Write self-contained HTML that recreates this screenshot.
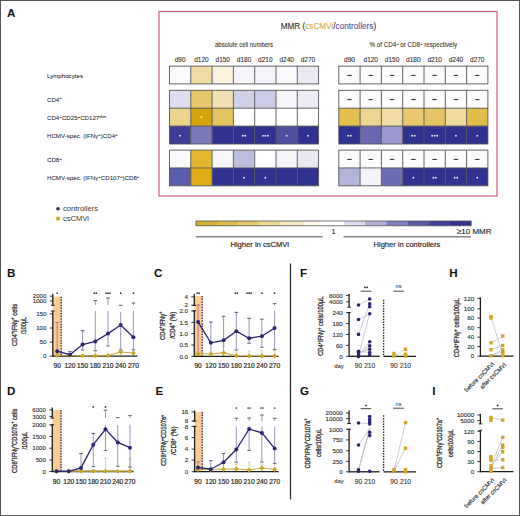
<!DOCTYPE html>
<html><head><meta charset="utf-8"><style>
html,body{margin:0;padding:0;background:#fff;width:520px;height:516px;overflow:hidden;}
svg{display:block;font-family:"Liberation Sans", sans-serif;}
</style></head><body>
<svg width="520" height="516" viewBox="0 0 520 516">
<rect x="0" y="0" width="520" height="516" fill="#fff"/>
<text x="7.00" y="16.70" font-size="11.6" text-anchor="start" font-weight="bold" fill="#111" >A</text>
<rect x="159.00" y="11.50" width="338.00" height="184.50" fill="none" stroke="#c95d76" stroke-width="1.2" />
<text x="328.4" y="29.0" font-size="8.5" text-anchor="middle" fill="#333" stroke="#333" stroke-width="0.12" textLength="95.5" lengthAdjust="spacingAndGlyphs">MMR (<tspan fill="#d9ad3c" stroke="#d9ad3c">csCMVi</tspan>/<tspan fill="#55549e" stroke="#55549e">controllers</tspan>)</text>
<text x="244.00" y="47.20" font-size="6.3" text-anchor="middle" font-weight="normal" fill="#333" stroke="#333" stroke-width="0.08" textLength="58" lengthAdjust="spacingAndGlyphs">absolute cell numbers</text>
<text x="413.3" y="47.4" font-size="6.6" text-anchor="middle" fill="#333" stroke="#333" stroke-width="0.08" textLength="87.5" lengthAdjust="spacingAndGlyphs">% of CD4<tspan font-size="4.4" dy="-2.4">+</tspan><tspan dy="2.4"> or CD8</tspan><tspan font-size="4.4" dy="-2.4">+</tspan><tspan dy="2.4"> respectively</tspan></text>
<text x="180.15" y="62.00" font-size="6.5" text-anchor="middle" font-weight="normal" fill="#333" stroke="#333" stroke-width="0.1" >d90</text>
<text x="201.45" y="62.00" font-size="6.5" text-anchor="middle" font-weight="normal" fill="#333" stroke="#333" stroke-width="0.1" >d120</text>
<text x="222.75" y="62.00" font-size="6.5" text-anchor="middle" font-weight="normal" fill="#333" stroke="#333" stroke-width="0.1" >d150</text>
<text x="244.05" y="62.00" font-size="6.5" text-anchor="middle" font-weight="normal" fill="#333" stroke="#333" stroke-width="0.1" >d180</text>
<text x="265.35" y="62.00" font-size="6.5" text-anchor="middle" font-weight="normal" fill="#333" stroke="#333" stroke-width="0.1" >d210</text>
<text x="286.65" y="62.00" font-size="6.5" text-anchor="middle" font-weight="normal" fill="#333" stroke="#333" stroke-width="0.1" >d240</text>
<text x="307.95" y="62.00" font-size="6.5" text-anchor="middle" font-weight="normal" fill="#333" stroke="#333" stroke-width="0.1" >d270</text>
<text x="349.45" y="62.00" font-size="6.5" text-anchor="middle" font-weight="normal" fill="#333" stroke="#333" stroke-width="0.1" >d90</text>
<text x="370.75" y="62.00" font-size="6.5" text-anchor="middle" font-weight="normal" fill="#333" stroke="#333" stroke-width="0.1" >d120</text>
<text x="392.05" y="62.00" font-size="6.5" text-anchor="middle" font-weight="normal" fill="#333" stroke="#333" stroke-width="0.1" >d150</text>
<text x="413.35" y="62.00" font-size="6.5" text-anchor="middle" font-weight="normal" fill="#333" stroke="#333" stroke-width="0.1" >d180</text>
<text x="434.65" y="62.00" font-size="6.5" text-anchor="middle" font-weight="normal" fill="#333" stroke="#333" stroke-width="0.1" >d210</text>
<text x="455.95" y="62.00" font-size="6.5" text-anchor="middle" font-weight="normal" fill="#333" stroke="#333" stroke-width="0.1" >d240</text>
<text x="477.25" y="62.00" font-size="6.5" text-anchor="middle" font-weight="normal" fill="#333" stroke="#333" stroke-width="0.1" >d270</text>
<rect x="169.50" y="66.10" width="21.30" height="17.80" fill="#fbfbfd" stroke="none" stroke-width="0" />
<rect x="190.80" y="66.10" width="21.30" height="17.80" fill="#f0dca2" stroke="none" stroke-width="0" />
<rect x="212.10" y="66.10" width="21.30" height="17.80" fill="#fbf2dc" stroke="none" stroke-width="0" />
<rect x="233.40" y="66.10" width="21.30" height="17.80" fill="#f4f4fa" stroke="none" stroke-width="0" />
<rect x="254.70" y="66.10" width="21.30" height="17.80" fill="#f3f3f9" stroke="none" stroke-width="0" />
<rect x="276.00" y="66.10" width="21.30" height="17.80" fill="#f9f9fc" stroke="none" stroke-width="0" />
<rect x="297.30" y="66.10" width="21.30" height="17.80" fill="#e9e9f4" stroke="none" stroke-width="0" />
<rect x="169.50" y="90.30" width="21.30" height="17.90" fill="#dedef0" stroke="none" stroke-width="0" />
<rect x="190.80" y="90.30" width="21.30" height="17.90" fill="#e6c76c" stroke="none" stroke-width="0" />
<rect x="212.10" y="90.30" width="21.30" height="17.90" fill="#f2e0b2" stroke="none" stroke-width="0" />
<rect x="233.40" y="90.30" width="21.30" height="17.90" fill="#cfcfe8" stroke="none" stroke-width="0" />
<rect x="254.70" y="90.30" width="21.30" height="17.90" fill="#cbcbe6" stroke="none" stroke-width="0" />
<rect x="276.00" y="90.30" width="21.30" height="17.90" fill="#f5f5f9" stroke="none" stroke-width="0" />
<rect x="297.30" y="90.30" width="21.30" height="17.90" fill="#ececf4" stroke="none" stroke-width="0" />
<rect x="169.50" y="108.20" width="21.30" height="17.90" fill="#ecd38c" stroke="none" stroke-width="0" />
<rect x="190.80" y="108.20" width="21.30" height="17.90" fill="#d4a40e" stroke="none" stroke-width="0" />
<circle cx="201.45" cy="117.15" r="1.0" fill="#fff0a0"/>
<rect x="212.10" y="108.20" width="21.30" height="17.90" fill="#e4c462" stroke="none" stroke-width="0" />
<rect x="233.40" y="108.20" width="21.30" height="17.90" fill="#ffffff" stroke="none" stroke-width="0" />
<rect x="254.70" y="108.20" width="21.30" height="17.90" fill="#ffffff" stroke="none" stroke-width="0" />
<rect x="276.00" y="108.20" width="21.30" height="17.90" fill="#ffffff" stroke="none" stroke-width="0" />
<rect x="297.30" y="108.20" width="21.30" height="17.90" fill="#ffffff" stroke="none" stroke-width="0" />
<rect x="169.50" y="126.10" width="21.30" height="17.90" fill="#3d3d99" stroke="none" stroke-width="0" />
<circle cx="180.15" cy="135.85" r="1.0" fill="#e4e4f2"/>
<rect x="190.80" y="126.10" width="21.30" height="17.90" fill="#7b79b9" stroke="none" stroke-width="0" />
<rect x="212.10" y="126.10" width="21.30" height="17.90" fill="#2f3290" stroke="none" stroke-width="0" />
<rect x="233.40" y="126.10" width="21.30" height="17.90" fill="#2f3290" stroke="none" stroke-width="0" />
<circle cx="242.80" cy="135.85" r="1.0" fill="#e4e4f2"/>
<circle cx="245.30" cy="135.85" r="1.0" fill="#e4e4f2"/>
<rect x="254.70" y="126.10" width="21.30" height="17.90" fill="#2f3290" stroke="none" stroke-width="0" />
<circle cx="262.85" cy="135.85" r="1.0" fill="#e4e4f2"/>
<circle cx="265.35" cy="135.85" r="1.0" fill="#e4e4f2"/>
<circle cx="267.85" cy="135.85" r="1.0" fill="#e4e4f2"/>
<rect x="276.00" y="126.10" width="21.30" height="17.90" fill="#4f4fa2" stroke="none" stroke-width="0" />
<circle cx="286.65" cy="135.85" r="1.0" fill="#e4e4f2"/>
<rect x="297.30" y="126.10" width="21.30" height="17.90" fill="#2f3290" stroke="none" stroke-width="0" />
<circle cx="307.95" cy="135.85" r="1.0" fill="#e4e4f2"/>
<rect x="169.50" y="150.10" width="21.30" height="17.85" fill="#fafafd" stroke="none" stroke-width="0" />
<rect x="190.80" y="150.10" width="21.30" height="17.85" fill="#e4b82c" stroke="none" stroke-width="0" />
<rect x="212.10" y="150.10" width="21.30" height="17.85" fill="#f6f6fa" stroke="none" stroke-width="0" />
<rect x="233.40" y="150.10" width="21.30" height="17.85" fill="#bdbde0" stroke="none" stroke-width="0" />
<rect x="254.70" y="150.10" width="21.30" height="17.85" fill="#ffffff" stroke="none" stroke-width="0" />
<rect x="276.00" y="150.10" width="21.30" height="17.85" fill="#f4f4f8" stroke="none" stroke-width="0" />
<rect x="297.30" y="150.10" width="21.30" height="17.85" fill="#e8e8f2" stroke="none" stroke-width="0" />
<rect x="169.50" y="167.95" width="21.30" height="17.85" fill="#5d5dad" stroke="none" stroke-width="0" />
<rect x="190.80" y="167.95" width="21.30" height="17.85" fill="#e0ac16" stroke="none" stroke-width="0" />
<rect x="212.10" y="167.95" width="21.30" height="17.85" fill="#2f3290" stroke="none" stroke-width="0" />
<rect x="233.40" y="167.95" width="21.30" height="17.85" fill="#2f3290" stroke="none" stroke-width="0" />
<circle cx="244.05" cy="177.68" r="1.0" fill="#e4e4f2"/>
<rect x="254.70" y="167.95" width="21.30" height="17.85" fill="#2f3290" stroke="none" stroke-width="0" />
<circle cx="265.35" cy="177.68" r="1.0" fill="#e4e4f2"/>
<rect x="276.00" y="167.95" width="21.30" height="17.85" fill="#2f3290" stroke="none" stroke-width="0" />
<rect x="297.30" y="167.95" width="21.30" height="17.85" fill="#2f3290" stroke="none" stroke-width="0" />
<rect x="169.50" y="66.10" width="149.10" height="17.80" fill="none" stroke="#555" stroke-width="0.9" />
<line x1="190.80" y1="66.10" x2="190.80" y2="83.90" stroke="#555" stroke-width="0.9" />
<line x1="212.10" y1="66.10" x2="212.10" y2="83.90" stroke="#555" stroke-width="0.9" />
<line x1="233.40" y1="66.10" x2="233.40" y2="83.90" stroke="#555" stroke-width="0.9" />
<line x1="254.70" y1="66.10" x2="254.70" y2="83.90" stroke="#555" stroke-width="0.9" />
<line x1="276.00" y1="66.10" x2="276.00" y2="83.90" stroke="#555" stroke-width="0.9" />
<line x1="297.30" y1="66.10" x2="297.30" y2="83.90" stroke="#555" stroke-width="0.9" />
<rect x="169.50" y="90.30" width="149.10" height="53.70" fill="none" stroke="#555" stroke-width="0.9" />
<line x1="190.80" y1="90.30" x2="190.80" y2="144.00" stroke="#555" stroke-width="0.9" />
<line x1="212.10" y1="90.30" x2="212.10" y2="144.00" stroke="#555" stroke-width="0.9" />
<line x1="233.40" y1="90.30" x2="233.40" y2="144.00" stroke="#555" stroke-width="0.9" />
<line x1="254.70" y1="90.30" x2="254.70" y2="144.00" stroke="#555" stroke-width="0.9" />
<line x1="276.00" y1="90.30" x2="276.00" y2="144.00" stroke="#555" stroke-width="0.9" />
<line x1="297.30" y1="90.30" x2="297.30" y2="144.00" stroke="#555" stroke-width="0.9" />
<line x1="169.50" y1="108.20" x2="318.60" y2="108.20" stroke="#555" stroke-width="0.9" />
<line x1="169.50" y1="126.10" x2="318.60" y2="126.10" stroke="#555" stroke-width="0.9" />
<rect x="169.50" y="150.10" width="149.10" height="35.70" fill="none" stroke="#555" stroke-width="0.9" />
<line x1="190.80" y1="150.10" x2="190.80" y2="185.80" stroke="#555" stroke-width="0.9" />
<line x1="212.10" y1="150.10" x2="212.10" y2="185.80" stroke="#555" stroke-width="0.9" />
<line x1="233.40" y1="150.10" x2="233.40" y2="185.80" stroke="#555" stroke-width="0.9" />
<line x1="254.70" y1="150.10" x2="254.70" y2="185.80" stroke="#555" stroke-width="0.9" />
<line x1="276.00" y1="150.10" x2="276.00" y2="185.80" stroke="#555" stroke-width="0.9" />
<line x1="297.30" y1="150.10" x2="297.30" y2="185.80" stroke="#555" stroke-width="0.9" />
<line x1="169.50" y1="167.95" x2="318.60" y2="167.95" stroke="#555" stroke-width="0.9" />
<rect x="338.80" y="66.10" width="21.30" height="17.80" fill="#fbfbfd" stroke="none" stroke-width="0" />
<line x1="347.25" y1="75.40" x2="351.65" y2="75.40" stroke="#2a2a2a" stroke-width="1.0" />
<rect x="360.10" y="66.10" width="21.30" height="17.80" fill="#fbfbfd" stroke="none" stroke-width="0" />
<line x1="368.55" y1="75.40" x2="372.95" y2="75.40" stroke="#2a2a2a" stroke-width="1.0" />
<rect x="381.40" y="66.10" width="21.30" height="17.80" fill="#fbfbfd" stroke="none" stroke-width="0" />
<line x1="389.85" y1="75.40" x2="394.25" y2="75.40" stroke="#2a2a2a" stroke-width="1.0" />
<rect x="402.70" y="66.10" width="21.30" height="17.80" fill="#fbfbfd" stroke="none" stroke-width="0" />
<line x1="411.15" y1="75.40" x2="415.55" y2="75.40" stroke="#2a2a2a" stroke-width="1.0" />
<rect x="424.00" y="66.10" width="21.30" height="17.80" fill="#fbfbfd" stroke="none" stroke-width="0" />
<line x1="432.45" y1="75.40" x2="436.85" y2="75.40" stroke="#2a2a2a" stroke-width="1.0" />
<rect x="445.30" y="66.10" width="21.30" height="17.80" fill="#fbfbfd" stroke="none" stroke-width="0" />
<line x1="453.75" y1="75.40" x2="458.15" y2="75.40" stroke="#2a2a2a" stroke-width="1.0" />
<rect x="466.60" y="66.10" width="21.30" height="17.80" fill="#fbfbfd" stroke="none" stroke-width="0" />
<line x1="475.05" y1="75.40" x2="479.45" y2="75.40" stroke="#2a2a2a" stroke-width="1.0" />
<rect x="338.80" y="90.30" width="21.30" height="17.90" fill="#fbfbfd" stroke="none" stroke-width="0" />
<line x1="347.25" y1="99.65" x2="351.65" y2="99.65" stroke="#2a2a2a" stroke-width="1.0" />
<rect x="360.10" y="90.30" width="21.30" height="17.90" fill="#fbfbfd" stroke="none" stroke-width="0" />
<line x1="368.55" y1="99.65" x2="372.95" y2="99.65" stroke="#2a2a2a" stroke-width="1.0" />
<rect x="381.40" y="90.30" width="21.30" height="17.90" fill="#fbfbfd" stroke="none" stroke-width="0" />
<line x1="389.85" y1="99.65" x2="394.25" y2="99.65" stroke="#2a2a2a" stroke-width="1.0" />
<rect x="402.70" y="90.30" width="21.30" height="17.90" fill="#fbfbfd" stroke="none" stroke-width="0" />
<line x1="411.15" y1="99.65" x2="415.55" y2="99.65" stroke="#2a2a2a" stroke-width="1.0" />
<rect x="424.00" y="90.30" width="21.30" height="17.90" fill="#fbfbfd" stroke="none" stroke-width="0" />
<line x1="432.45" y1="99.65" x2="436.85" y2="99.65" stroke="#2a2a2a" stroke-width="1.0" />
<rect x="445.30" y="90.30" width="21.30" height="17.90" fill="#fbfbfd" stroke="none" stroke-width="0" />
<line x1="453.75" y1="99.65" x2="458.15" y2="99.65" stroke="#2a2a2a" stroke-width="1.0" />
<rect x="466.60" y="90.30" width="21.30" height="17.90" fill="#fbfbfd" stroke="none" stroke-width="0" />
<line x1="475.05" y1="99.65" x2="479.45" y2="99.65" stroke="#2a2a2a" stroke-width="1.0" />
<rect x="338.80" y="108.20" width="21.30" height="17.90" fill="#e4bf50" stroke="none" stroke-width="0" />
<rect x="360.10" y="108.20" width="21.30" height="17.90" fill="#ecd494" stroke="none" stroke-width="0" />
<rect x="381.40" y="108.20" width="21.30" height="17.90" fill="#f0dca4" stroke="none" stroke-width="0" />
<rect x="402.70" y="108.20" width="21.30" height="17.90" fill="#e8c870" stroke="none" stroke-width="0" />
<rect x="424.00" y="108.20" width="21.30" height="17.90" fill="#e6c466" stroke="none" stroke-width="0" />
<rect x="445.30" y="108.20" width="21.30" height="17.90" fill="#f0daa0" stroke="none" stroke-width="0" />
<rect x="466.60" y="108.20" width="21.30" height="17.90" fill="#e0bc48" stroke="none" stroke-width="0" />
<rect x="338.80" y="126.10" width="21.30" height="17.90" fill="#2f3290" stroke="none" stroke-width="0" />
<circle cx="348.20" cy="135.85" r="1.0" fill="#e4e4f2"/>
<circle cx="350.70" cy="135.85" r="1.0" fill="#e4e4f2"/>
<rect x="360.10" y="126.10" width="21.30" height="17.90" fill="#6a68b0" stroke="none" stroke-width="0" />
<rect x="381.40" y="126.10" width="21.30" height="17.90" fill="#9a98cc" stroke="none" stroke-width="0" />
<rect x="402.70" y="126.10" width="21.30" height="17.90" fill="#2f3290" stroke="none" stroke-width="0" />
<circle cx="412.10" cy="135.85" r="1.0" fill="#e4e4f2"/>
<circle cx="414.60" cy="135.85" r="1.0" fill="#e4e4f2"/>
<rect x="424.00" y="126.10" width="21.30" height="17.90" fill="#2f3290" stroke="none" stroke-width="0" />
<circle cx="432.15" cy="135.85" r="1.0" fill="#e4e4f2"/>
<circle cx="434.65" cy="135.85" r="1.0" fill="#e4e4f2"/>
<circle cx="437.15" cy="135.85" r="1.0" fill="#e4e4f2"/>
<rect x="445.30" y="126.10" width="21.30" height="17.90" fill="#2f3290" stroke="none" stroke-width="0" />
<circle cx="455.95" cy="135.85" r="1.0" fill="#e4e4f2"/>
<rect x="466.60" y="126.10" width="21.30" height="17.90" fill="#2f3290" stroke="none" stroke-width="0" />
<circle cx="477.25" cy="135.85" r="1.0" fill="#e4e4f2"/>
<rect x="338.80" y="150.10" width="21.30" height="17.85" fill="#fbfbfd" stroke="none" stroke-width="0" />
<line x1="347.25" y1="159.43" x2="351.65" y2="159.43" stroke="#2a2a2a" stroke-width="1.0" />
<rect x="360.10" y="150.10" width="21.30" height="17.85" fill="#fbfbfd" stroke="none" stroke-width="0" />
<line x1="368.55" y1="159.43" x2="372.95" y2="159.43" stroke="#2a2a2a" stroke-width="1.0" />
<rect x="381.40" y="150.10" width="21.30" height="17.85" fill="#fbfbfd" stroke="none" stroke-width="0" />
<line x1="389.85" y1="159.43" x2="394.25" y2="159.43" stroke="#2a2a2a" stroke-width="1.0" />
<rect x="402.70" y="150.10" width="21.30" height="17.85" fill="#fbfbfd" stroke="none" stroke-width="0" />
<line x1="411.15" y1="159.43" x2="415.55" y2="159.43" stroke="#2a2a2a" stroke-width="1.0" />
<rect x="424.00" y="150.10" width="21.30" height="17.85" fill="#fbfbfd" stroke="none" stroke-width="0" />
<line x1="432.45" y1="159.43" x2="436.85" y2="159.43" stroke="#2a2a2a" stroke-width="1.0" />
<rect x="445.30" y="150.10" width="21.30" height="17.85" fill="#fbfbfd" stroke="none" stroke-width="0" />
<line x1="453.75" y1="159.43" x2="458.15" y2="159.43" stroke="#2a2a2a" stroke-width="1.0" />
<rect x="466.60" y="150.10" width="21.30" height="17.85" fill="#fbfbfd" stroke="none" stroke-width="0" />
<line x1="475.05" y1="159.43" x2="479.45" y2="159.43" stroke="#2a2a2a" stroke-width="1.0" />
<rect x="338.80" y="167.95" width="21.30" height="17.85" fill="#b4b4dc" stroke="none" stroke-width="0" />
<rect x="360.10" y="167.95" width="21.30" height="17.85" fill="#f4f4f8" stroke="none" stroke-width="0" />
<rect x="381.40" y="167.95" width="21.30" height="17.85" fill="#6c6cb4" stroke="none" stroke-width="0" />
<rect x="402.70" y="167.95" width="21.30" height="17.85" fill="#2f3290" stroke="none" stroke-width="0" />
<circle cx="413.35" cy="177.68" r="1.0" fill="#e4e4f2"/>
<rect x="424.00" y="167.95" width="21.30" height="17.85" fill="#2f3290" stroke="none" stroke-width="0" />
<circle cx="433.40" cy="177.68" r="1.0" fill="#e4e4f2"/>
<circle cx="435.90" cy="177.68" r="1.0" fill="#e4e4f2"/>
<rect x="445.30" y="167.95" width="21.30" height="17.85" fill="#2f3290" stroke="none" stroke-width="0" />
<circle cx="454.70" cy="177.68" r="1.0" fill="#e4e4f2"/>
<circle cx="457.20" cy="177.68" r="1.0" fill="#e4e4f2"/>
<rect x="466.60" y="167.95" width="21.30" height="17.85" fill="#2f3290" stroke="none" stroke-width="0" />
<circle cx="477.25" cy="177.68" r="1.0" fill="#e4e4f2"/>
<rect x="338.80" y="66.10" width="149.10" height="17.80" fill="none" stroke="#555" stroke-width="0.9" />
<line x1="360.10" y1="66.10" x2="360.10" y2="83.90" stroke="#555" stroke-width="0.9" />
<line x1="381.40" y1="66.10" x2="381.40" y2="83.90" stroke="#555" stroke-width="0.9" />
<line x1="402.70" y1="66.10" x2="402.70" y2="83.90" stroke="#555" stroke-width="0.9" />
<line x1="424.00" y1="66.10" x2="424.00" y2="83.90" stroke="#555" stroke-width="0.9" />
<line x1="445.30" y1="66.10" x2="445.30" y2="83.90" stroke="#555" stroke-width="0.9" />
<line x1="466.60" y1="66.10" x2="466.60" y2="83.90" stroke="#555" stroke-width="0.9" />
<rect x="338.80" y="90.30" width="149.10" height="53.70" fill="none" stroke="#555" stroke-width="0.9" />
<line x1="360.10" y1="90.30" x2="360.10" y2="144.00" stroke="#555" stroke-width="0.9" />
<line x1="381.40" y1="90.30" x2="381.40" y2="144.00" stroke="#555" stroke-width="0.9" />
<line x1="402.70" y1="90.30" x2="402.70" y2="144.00" stroke="#555" stroke-width="0.9" />
<line x1="424.00" y1="90.30" x2="424.00" y2="144.00" stroke="#555" stroke-width="0.9" />
<line x1="445.30" y1="90.30" x2="445.30" y2="144.00" stroke="#555" stroke-width="0.9" />
<line x1="466.60" y1="90.30" x2="466.60" y2="144.00" stroke="#555" stroke-width="0.9" />
<line x1="338.80" y1="108.20" x2="487.90" y2="108.20" stroke="#555" stroke-width="0.9" />
<line x1="338.80" y1="126.10" x2="487.90" y2="126.10" stroke="#555" stroke-width="0.9" />
<rect x="338.80" y="150.10" width="149.10" height="35.70" fill="none" stroke="#555" stroke-width="0.9" />
<line x1="360.10" y1="150.10" x2="360.10" y2="185.80" stroke="#555" stroke-width="0.9" />
<line x1="381.40" y1="150.10" x2="381.40" y2="185.80" stroke="#555" stroke-width="0.9" />
<line x1="402.70" y1="150.10" x2="402.70" y2="185.80" stroke="#555" stroke-width="0.9" />
<line x1="424.00" y1="150.10" x2="424.00" y2="185.80" stroke="#555" stroke-width="0.9" />
<line x1="445.30" y1="150.10" x2="445.30" y2="185.80" stroke="#555" stroke-width="0.9" />
<line x1="466.60" y1="150.10" x2="466.60" y2="185.80" stroke="#555" stroke-width="0.9" />
<line x1="338.80" y1="167.95" x2="487.90" y2="167.95" stroke="#555" stroke-width="0.9" />
<text x="47" y="78" font-size="6.15" fill="#2a2a2a" stroke="#2a2a2a" stroke-width="0.05">Lymphocytes</text>
<text x="47" y="101.5" font-size="6.15" fill="#2a2a2a" stroke="#2a2a2a" stroke-width="0.05">CD4<tspan font-size="4.4" dy="-2.4">+</tspan></text>
<text x="47" y="120" font-size="6.15" fill="#2a2a2a" stroke="#2a2a2a" stroke-width="0.05">CD4<tspan font-size="4.4" dy="-2.4">+</tspan><tspan dy="2.4">CD25</tspan><tspan font-size="4.4" dy="-2.4">+</tspan><tspan dy="2.4">CD127</tspan><tspan font-size="4.4" dy="-2.4">dim</tspan></text>
<text x="47" y="138" font-size="6.15" fill="#2a2a2a" stroke="#2a2a2a" stroke-width="0.05">HCMV-spec. (IFNγ<tspan font-size="4.4" dy="-2.4">+</tspan><tspan dy="2.4">)CD4</tspan><tspan font-size="4.4" dy="-2.4">+</tspan></text>
<text x="47" y="162" font-size="6.15" fill="#2a2a2a" stroke="#2a2a2a" stroke-width="0.05">CD8<tspan font-size="4.4" dy="-2.4">+</tspan></text>
<text x="47" y="180" font-size="6.15" fill="#2a2a2a" stroke="#2a2a2a" stroke-width="0.05">HCMV-spec. (IFNγ<tspan font-size="4.4" dy="-2.4">+</tspan><tspan dy="2.4">CD107</tspan><tspan font-size="4.4" dy="-2.4">+</tspan><tspan dy="2.4">)CD8</tspan><tspan font-size="4.4" dy="-2.4">+</tspan></text>
<circle cx="58" cy="208.8" r="1.8" fill="#2a2672"/>
<rect x="56.20" y="216.80" width="3.60" height="3.60" fill="#c8a23a" stroke="none" stroke-width="0" />
<text x="63.00" y="210.90" font-size="7.6" text-anchor="start" font-weight="normal" fill="#3a3a3a" >controllers</text>
<text x="63.00" y="220.90" font-size="7.6" text-anchor="start" font-weight="normal" fill="#3a3a3a" >csCMVi</text>
<rect x="196.00" y="221.00" width="21.30" height="4.80" fill="#d4ae2a" stroke="none" stroke-width="0" />
<rect x="217.00" y="221.00" width="21.80" height="4.80" fill="#dcbc44" stroke="none" stroke-width="0" />
<rect x="238.50" y="221.00" width="21.30" height="4.80" fill="#e6ca6a" stroke="none" stroke-width="0" />
<rect x="259.50" y="221.00" width="21.30" height="4.80" fill="#eed894" stroke="none" stroke-width="0" />
<rect x="280.50" y="221.00" width="23.60" height="4.80" fill="#f4e8c0" stroke="none" stroke-width="0" />
<rect x="303.80" y="221.00" width="16.50" height="4.80" fill="#fbf6e6" stroke="none" stroke-width="0" />
<rect x="320.00" y="221.00" width="24.50" height="4.80" fill="#ffffff" stroke="none" stroke-width="0" />
<rect x="344.20" y="221.00" width="21.10" height="4.80" fill="#dedef0" stroke="none" stroke-width="0" />
<rect x="365.00" y="221.00" width="21.80" height="4.80" fill="#aeaed8" stroke="none" stroke-width="0" />
<rect x="386.50" y="221.00" width="21.30" height="4.80" fill="#8080c0" stroke="none" stroke-width="0" />
<rect x="407.50" y="221.00" width="21.30" height="4.80" fill="#5c5caa" stroke="none" stroke-width="0" />
<rect x="428.50" y="221.00" width="21.80" height="4.80" fill="#42429a" stroke="none" stroke-width="0" />
<rect x="450.00" y="221.00" width="21.30" height="4.80" fill="#30308e" stroke="none" stroke-width="0" />
<rect x="196.00" y="221.00" width="275.00" height="4.80" fill="none" stroke="#555" stroke-width="0.8" />
<line x1="196.00" y1="236.80" x2="322.70" y2="236.80" stroke="#858585" stroke-width="1.6" />
<line x1="343.50" y1="236.80" x2="471.00" y2="236.80" stroke="#858585" stroke-width="1.6" />
<text x="333.50" y="233.80" font-size="6.5" text-anchor="middle" font-weight="normal" fill="#222" stroke="#222" stroke-width="0.15" >1</text>
<text x="259.70" y="246.50" font-size="7.6" text-anchor="middle" font-weight="normal" fill="#2a2a2a" stroke="#2a2a2a" stroke-width="0.18" >Higher in csCMVi</text>
<text x="406.90" y="246.50" font-size="7.5" text-anchor="middle" font-weight="normal" fill="#2a2a2a" stroke="#2a2a2a" stroke-width="0.18" >Higher in controllers</text>
<text x="457.00" y="234.40" font-size="7.9" text-anchor="start" font-weight="normal" fill="#2a2a2a" stroke="#2a2a2a" stroke-width="0.15" textLength="34.5" lengthAdjust="spacingAndGlyphs">≥10 MMR</text>
<rect x="52.80" y="296.70" width="8.80" height="59.50" fill="#f9cd93" stroke="none" stroke-width="0" />
<line x1="61.20" y1="296.70" x2="61.20" y2="356.20" stroke="#2a2050" stroke-width="1.2" stroke-dasharray="1.5,1.2"/>
<line x1="95.30" y1="351.00" x2="95.30" y2="356.00" stroke="#d4c494" stroke-width="0.8" />
<line x1="93.80" y1="351.00" x2="96.80" y2="351.00" stroke="#d4c494" stroke-width="0.8" />
<line x1="120.70" y1="349.00" x2="120.70" y2="356.00" stroke="#d4c494" stroke-width="0.8" />
<line x1="119.20" y1="349.00" x2="122.20" y2="349.00" stroke="#d4c494" stroke-width="0.8" />
<line x1="133.40" y1="350.00" x2="133.40" y2="356.00" stroke="#d4c494" stroke-width="0.8" />
<line x1="131.90" y1="350.00" x2="134.90" y2="350.00" stroke="#d4c494" stroke-width="0.8" />
<line x1="57.20" y1="322.40" x2="57.20" y2="356.20" stroke="#b07890" stroke-width="1.0" />
<line x1="55.40" y1="322.40" x2="59.00" y2="322.40" stroke="#b07890" stroke-width="1.1" />
<line x1="69.90" y1="351.60" x2="69.90" y2="356.20" stroke="#9896bc" stroke-width="1.0" />
<line x1="68.10" y1="351.60" x2="71.70" y2="351.60" stroke="#646482" stroke-width="1.1" />
<line x1="82.60" y1="330.60" x2="82.60" y2="350.00" stroke="#9896bc" stroke-width="1.0" />
<line x1="80.80" y1="330.60" x2="84.40" y2="330.60" stroke="#646482" stroke-width="1.1" />
<line x1="80.80" y1="350.00" x2="84.40" y2="350.00" stroke="#646482" stroke-width="1.0" />
<line x1="95.30" y1="300.60" x2="95.30" y2="305.30" stroke="#9896bc" stroke-width="1.0" />
<line x1="95.30" y1="311.00" x2="95.30" y2="350.70" stroke="#9896bc" stroke-width="1.0" />
<line x1="93.50" y1="300.60" x2="97.10" y2="300.60" stroke="#646482" stroke-width="1.1" />
<line x1="93.50" y1="350.70" x2="97.10" y2="350.70" stroke="#646482" stroke-width="1.0" />
<line x1="108.00" y1="298.00" x2="108.00" y2="305.30" stroke="#9896bc" stroke-width="1.0" />
<line x1="108.00" y1="311.00" x2="108.00" y2="346.00" stroke="#9896bc" stroke-width="1.0" />
<line x1="106.20" y1="298.00" x2="109.80" y2="298.00" stroke="#646482" stroke-width="1.1" />
<line x1="106.20" y1="346.00" x2="109.80" y2="346.00" stroke="#646482" stroke-width="1.0" />
<line x1="120.70" y1="312.00" x2="120.70" y2="350.00" stroke="#9896bc" stroke-width="1.0" />
<line x1="118.90" y1="305.30" x2="122.50" y2="305.30" stroke="#646482" stroke-width="1.1" />
<line x1="118.90" y1="350.00" x2="122.50" y2="350.00" stroke="#646482" stroke-width="1.0" />
<line x1="133.40" y1="303.00" x2="133.40" y2="305.30" stroke="#9896bc" stroke-width="1.0" />
<line x1="133.40" y1="311.00" x2="133.40" y2="349.80" stroke="#9896bc" stroke-width="1.0" />
<line x1="131.60" y1="303.00" x2="135.20" y2="303.00" stroke="#646482" stroke-width="1.1" />
<line x1="131.60" y1="349.80" x2="135.20" y2="349.80" stroke="#646482" stroke-width="1.0" />
<line x1="52.80" y1="356.20" x2="137.50" y2="356.20" stroke="#1e1e1e" stroke-width="1.3" />
<polyline points="57.20,355.50 69.90,355.50 82.60,355.80 95.30,355.80 108.00,355.50 120.70,352.00 133.40,353.00" fill="none" stroke="#c4a22c" stroke-width="1.2" stroke-opacity="0.85"/>
<rect x="-1.8" y="-1.8" width="3.6" height="3.6" fill="#c9a52a" transform="translate(57.20,355.50) rotate(45)"/>
<rect x="-1.8" y="-1.8" width="3.6" height="3.6" fill="#c9a52a" transform="translate(69.90,355.50) rotate(45)"/>
<rect x="-1.8" y="-1.8" width="3.6" height="3.6" fill="#c9a52a" transform="translate(82.60,355.80) rotate(45)"/>
<rect x="-1.8" y="-1.8" width="3.6" height="3.6" fill="#c9a52a" transform="translate(95.30,355.80) rotate(45)"/>
<rect x="-1.8" y="-1.8" width="3.6" height="3.6" fill="#c9a52a" transform="translate(108.00,355.50) rotate(45)"/>
<rect x="-1.8" y="-1.8" width="3.6" height="3.6" fill="#c9a52a" transform="translate(120.70,352.00) rotate(45)"/>
<rect x="-1.8" y="-1.8" width="3.6" height="3.6" fill="#c9a52a" transform="translate(133.40,353.00) rotate(45)"/>
<polyline points="57.20,351.20 69.90,354.70 82.60,344.50 95.30,341.40 108.00,333.60 120.70,325.00 133.40,337.20" fill="none" stroke="#2a2672" stroke-width="1.3"/>
<circle cx="57.20" cy="351.20" r="2.0" fill="#2a2672"/>
<circle cx="69.90" cy="354.70" r="2.0" fill="#2a2672"/>
<circle cx="82.60" cy="344.50" r="2.0" fill="#2a2672"/>
<circle cx="95.30" cy="341.40" r="2.0" fill="#2a2672"/>
<circle cx="108.00" cy="333.60" r="2.0" fill="#2a2672"/>
<circle cx="120.70" cy="325.00" r="2.0" fill="#2a2672"/>
<circle cx="133.40" cy="337.20" r="2.0" fill="#2a2672"/>
<line x1="52.80" y1="293.70" x2="52.80" y2="305.30" stroke="#1e1e1e" stroke-width="1.3" />
<line x1="52.80" y1="311.00" x2="52.80" y2="356.80" stroke="#1e1e1e" stroke-width="1.3" />
<line x1="51.00" y1="305.30" x2="54.60" y2="305.30" stroke="#1e1e1e" stroke-width="1.0" />
<line x1="51.00" y1="311.00" x2="54.60" y2="311.00" stroke="#1e1e1e" stroke-width="1.0" />
<line x1="49.80" y1="296.20" x2="52.80" y2="296.20" stroke="#1e1e1e" stroke-width="0.9" />
<text x="46.50" y="298.40" font-size="6.2" text-anchor="end" font-weight="normal" fill="#303030" stroke="#303030" stroke-width="0.12" >2000</text>
<line x1="49.80" y1="301.00" x2="52.80" y2="301.00" stroke="#1e1e1e" stroke-width="0.9" />
<text x="46.50" y="303.20" font-size="6.2" text-anchor="end" font-weight="normal" fill="#303030" stroke="#303030" stroke-width="0.12" >1000</text>
<line x1="49.80" y1="313.90" x2="52.80" y2="313.90" stroke="#1e1e1e" stroke-width="0.9" />
<text x="46.50" y="316.10" font-size="6.2" text-anchor="end" font-weight="normal" fill="#303030" stroke="#303030" stroke-width="0.12" >150</text>
<line x1="49.80" y1="328.00" x2="52.80" y2="328.00" stroke="#1e1e1e" stroke-width="0.9" />
<text x="46.50" y="330.20" font-size="6.2" text-anchor="end" font-weight="normal" fill="#303030" stroke="#303030" stroke-width="0.12" >100</text>
<line x1="49.80" y1="342.10" x2="52.80" y2="342.10" stroke="#1e1e1e" stroke-width="0.9" />
<text x="46.50" y="344.30" font-size="6.2" text-anchor="end" font-weight="normal" fill="#303030" stroke="#303030" stroke-width="0.12" >50</text>
<line x1="49.80" y1="356.20" x2="52.80" y2="356.20" stroke="#1e1e1e" stroke-width="0.9" />
<text x="46.50" y="358.40" font-size="6.2" text-anchor="end" font-weight="normal" fill="#303030" stroke="#303030" stroke-width="0.12" >0</text>
<text x="57.20" y="368.20" font-size="6.6" text-anchor="middle" font-weight="normal" fill="#2a2a2a" stroke="#2a2a2a" stroke-width="0.2" >90</text>
<text x="69.90" y="368.20" font-size="6.6" text-anchor="middle" font-weight="normal" fill="#2a2a2a" stroke="#2a2a2a" stroke-width="0.2" >120</text>
<text x="82.60" y="368.20" font-size="6.6" text-anchor="middle" font-weight="normal" fill="#2a2a2a" stroke="#2a2a2a" stroke-width="0.2" >150</text>
<text x="95.30" y="368.20" font-size="6.6" text-anchor="middle" font-weight="normal" fill="#2a2a2a" stroke="#2a2a2a" stroke-width="0.2" >180</text>
<text x="108.00" y="368.20" font-size="6.6" text-anchor="middle" font-weight="normal" fill="#2a2a2a" stroke="#2a2a2a" stroke-width="0.2" >210</text>
<text x="120.70" y="368.20" font-size="6.6" text-anchor="middle" font-weight="normal" fill="#2a2a2a" stroke="#2a2a2a" stroke-width="0.2" >240</text>
<text x="133.40" y="368.20" font-size="6.6" text-anchor="middle" font-weight="normal" fill="#2a2a2a" stroke="#2a2a2a" stroke-width="0.2" >270</text>
<circle cx="57.20" cy="293.20" r="0.85" fill="#333"/>
<circle cx="94.30" cy="293.20" r="0.85" fill="#333"/>
<circle cx="96.30" cy="293.20" r="0.85" fill="#333"/>
<circle cx="106.00" cy="293.20" r="0.85" fill="#333"/>
<circle cx="108.00" cy="293.20" r="0.85" fill="#333"/>
<circle cx="110.00" cy="293.20" r="0.85" fill="#333"/>
<circle cx="120.70" cy="293.20" r="0.85" fill="#333"/>
<circle cx="133.40" cy="293.20" r="0.85" fill="#333"/>
<text x="0" y="0" font-size="7.6" text-anchor="middle" fill="#333333" stroke="#333333" stroke-width="0.32" textLength="42" lengthAdjust="spacingAndGlyphs" transform="translate(16.90,324.90) rotate(-90)">CD4<tspan font-size="4.8" dy="-2.6">+</tspan><tspan dy="2.6">IFNγ<tspan font-size="4.8" dy="-2.6">+</tspan><tspan dy="2.6"> cells</tspan></tspan></text>
<text x="0" y="0" font-size="7.6" text-anchor="middle" fill="#333333" stroke="#333333" stroke-width="0.32" textLength="17.6" lengthAdjust="spacingAndGlyphs" transform="translate(25.80,325.50) rotate(-90)">/100µL</text>
<text x="7.00" y="277.40" font-size="11.6" text-anchor="start" font-weight="bold" fill="#111" >B</text>
<rect x="194.30" y="295.90" width="8.30" height="60.40" fill="#f9cd93" stroke="none" stroke-width="0" />
<line x1="202.20" y1="295.90" x2="202.20" y2="356.30" stroke="#2a2050" stroke-width="1.2" stroke-dasharray="1.5,1.2"/>
<line x1="223.60" y1="345.30" x2="223.60" y2="356.00" stroke="#d4c494" stroke-width="0.8" />
<line x1="222.10" y1="345.30" x2="225.10" y2="345.30" stroke="#d4c494" stroke-width="0.8" />
<line x1="236.35" y1="350.00" x2="236.35" y2="356.00" stroke="#d4c494" stroke-width="0.8" />
<line x1="234.85" y1="350.00" x2="237.85" y2="350.00" stroke="#d4c494" stroke-width="0.8" />
<line x1="249.10" y1="351.00" x2="249.10" y2="356.00" stroke="#d4c494" stroke-width="0.8" />
<line x1="247.60" y1="351.00" x2="250.60" y2="351.00" stroke="#d4c494" stroke-width="0.8" />
<line x1="261.85" y1="350.40" x2="261.85" y2="356.00" stroke="#d4c494" stroke-width="0.8" />
<line x1="260.35" y1="350.40" x2="263.35" y2="350.40" stroke="#d4c494" stroke-width="0.8" />
<line x1="274.60" y1="350.40" x2="274.60" y2="356.00" stroke="#d4c494" stroke-width="0.8" />
<line x1="273.10" y1="350.40" x2="276.10" y2="350.40" stroke="#d4c494" stroke-width="0.8" />
<line x1="198.10" y1="305.00" x2="198.10" y2="356.30" stroke="#b07890" stroke-width="1.0" />
<line x1="196.30" y1="305.00" x2="199.90" y2="305.00" stroke="#b07890" stroke-width="1.1" />
<line x1="210.85" y1="322.10" x2="210.85" y2="356.30" stroke="#9896bc" stroke-width="1.0" />
<line x1="209.05" y1="322.10" x2="212.65" y2="322.10" stroke="#646482" stroke-width="1.1" />
<line x1="223.60" y1="316.30" x2="223.60" y2="356.30" stroke="#9896bc" stroke-width="1.0" />
<line x1="221.80" y1="316.30" x2="225.40" y2="316.30" stroke="#646482" stroke-width="1.1" />
<line x1="236.35" y1="312.40" x2="236.35" y2="350.00" stroke="#9896bc" stroke-width="1.0" />
<line x1="234.55" y1="312.40" x2="238.15" y2="312.40" stroke="#646482" stroke-width="1.1" />
<line x1="234.55" y1="350.00" x2="238.15" y2="350.00" stroke="#646482" stroke-width="1.0" />
<line x1="249.10" y1="318.30" x2="249.10" y2="343.20" stroke="#9896bc" stroke-width="1.0" />
<line x1="247.30" y1="318.30" x2="250.90" y2="318.30" stroke="#646482" stroke-width="1.1" />
<line x1="247.30" y1="343.20" x2="250.90" y2="343.20" stroke="#646482" stroke-width="1.0" />
<line x1="261.85" y1="319.20" x2="261.85" y2="347.30" stroke="#9896bc" stroke-width="1.0" />
<line x1="260.05" y1="319.20" x2="263.65" y2="319.20" stroke="#646482" stroke-width="1.1" />
<line x1="260.05" y1="347.30" x2="263.65" y2="347.30" stroke="#646482" stroke-width="1.0" />
<line x1="274.60" y1="303.60" x2="274.60" y2="305.50" stroke="#9896bc" stroke-width="1.0" />
<line x1="274.60" y1="310.70" x2="274.60" y2="349.40" stroke="#9896bc" stroke-width="1.0" />
<line x1="272.80" y1="303.60" x2="276.40" y2="303.60" stroke="#646482" stroke-width="1.1" />
<line x1="272.80" y1="349.40" x2="276.40" y2="349.40" stroke="#646482" stroke-width="1.0" />
<line x1="194.30" y1="356.30" x2="278.50" y2="356.30" stroke="#1e1e1e" stroke-width="1.3" />
<polyline points="198.10,353.70 210.85,354.00 223.60,352.90 236.35,355.80 249.10,356.00 261.85,356.00 274.60,356.00" fill="none" stroke="#c4a22c" stroke-width="1.2" stroke-opacity="0.85"/>
<rect x="-1.8" y="-1.8" width="3.6" height="3.6" fill="#c9a52a" transform="translate(198.10,353.70) rotate(45)"/>
<rect x="-1.8" y="-1.8" width="3.6" height="3.6" fill="#c9a52a" transform="translate(210.85,354.00) rotate(45)"/>
<rect x="-1.8" y="-1.8" width="3.6" height="3.6" fill="#c9a52a" transform="translate(223.60,352.90) rotate(45)"/>
<rect x="-1.8" y="-1.8" width="3.6" height="3.6" fill="#c9a52a" transform="translate(236.35,355.80) rotate(45)"/>
<rect x="-1.8" y="-1.8" width="3.6" height="3.6" fill="#c9a52a" transform="translate(249.10,356.00) rotate(45)"/>
<rect x="-1.8" y="-1.8" width="3.6" height="3.6" fill="#c9a52a" transform="translate(261.85,356.00) rotate(45)"/>
<rect x="-1.8" y="-1.8" width="3.6" height="3.6" fill="#c9a52a" transform="translate(274.60,356.00) rotate(45)"/>
<polyline points="198.10,322.10 210.85,342.80 223.60,340.30 236.35,331.20 249.10,338.20 261.85,336.20 274.60,328.10" fill="none" stroke="#2a2672" stroke-width="1.3"/>
<circle cx="198.10" cy="322.10" r="2.0" fill="#2a2672"/>
<circle cx="210.85" cy="342.80" r="2.0" fill="#2a2672"/>
<circle cx="223.60" cy="340.30" r="2.0" fill="#2a2672"/>
<circle cx="236.35" cy="331.20" r="2.0" fill="#2a2672"/>
<circle cx="249.10" cy="338.20" r="2.0" fill="#2a2672"/>
<circle cx="261.85" cy="336.20" r="2.0" fill="#2a2672"/>
<circle cx="274.60" cy="328.10" r="2.0" fill="#2a2672"/>
<line x1="194.30" y1="293.70" x2="194.30" y2="305.50" stroke="#1e1e1e" stroke-width="1.3" />
<line x1="194.30" y1="310.70" x2="194.30" y2="356.90" stroke="#1e1e1e" stroke-width="1.3" />
<line x1="192.50" y1="305.50" x2="196.10" y2="305.50" stroke="#1e1e1e" stroke-width="1.0" />
<line x1="192.50" y1="310.70" x2="196.10" y2="310.70" stroke="#1e1e1e" stroke-width="1.0" />
<line x1="191.30" y1="296.80" x2="194.30" y2="296.80" stroke="#1e1e1e" stroke-width="0.9" />
<text x="188.00" y="299.00" font-size="6.2" text-anchor="end" font-weight="normal" fill="#303030" stroke="#303030" stroke-width="0.12" >4</text>
<line x1="191.30" y1="305.20" x2="194.30" y2="305.20" stroke="#1e1e1e" stroke-width="0.9" />
<text x="188.00" y="307.40" font-size="6.2" text-anchor="end" font-weight="normal" fill="#303030" stroke="#303030" stroke-width="0.12" >2</text>
<line x1="191.30" y1="311.00" x2="194.30" y2="311.00" stroke="#1e1e1e" stroke-width="0.9" />
<text x="188.00" y="313.20" font-size="6.2" text-anchor="end" font-weight="normal" fill="#303030" stroke="#303030" stroke-width="0.12" >2.0</text>
<line x1="191.30" y1="322.30" x2="194.30" y2="322.30" stroke="#1e1e1e" stroke-width="0.9" />
<text x="188.00" y="324.50" font-size="6.2" text-anchor="end" font-weight="normal" fill="#303030" stroke="#303030" stroke-width="0.12" >1.5</text>
<line x1="191.30" y1="333.60" x2="194.30" y2="333.60" stroke="#1e1e1e" stroke-width="0.9" />
<text x="188.00" y="335.80" font-size="6.2" text-anchor="end" font-weight="normal" fill="#303030" stroke="#303030" stroke-width="0.12" >1.0</text>
<line x1="191.30" y1="345.00" x2="194.30" y2="345.00" stroke="#1e1e1e" stroke-width="0.9" />
<text x="188.00" y="347.20" font-size="6.2" text-anchor="end" font-weight="normal" fill="#303030" stroke="#303030" stroke-width="0.12" >0.5</text>
<line x1="191.30" y1="356.30" x2="194.30" y2="356.30" stroke="#1e1e1e" stroke-width="0.9" />
<text x="188.00" y="358.50" font-size="6.2" text-anchor="end" font-weight="normal" fill="#303030" stroke="#303030" stroke-width="0.12" >0.0</text>
<text x="198.10" y="368.20" font-size="6.6" text-anchor="middle" font-weight="normal" fill="#2a2a2a" stroke="#2a2a2a" stroke-width="0.2" >90</text>
<text x="210.85" y="368.20" font-size="6.6" text-anchor="middle" font-weight="normal" fill="#2a2a2a" stroke="#2a2a2a" stroke-width="0.2" >120</text>
<text x="223.60" y="368.20" font-size="6.6" text-anchor="middle" font-weight="normal" fill="#2a2a2a" stroke="#2a2a2a" stroke-width="0.2" >150</text>
<text x="236.35" y="368.20" font-size="6.6" text-anchor="middle" font-weight="normal" fill="#2a2a2a" stroke="#2a2a2a" stroke-width="0.2" >180</text>
<text x="249.10" y="368.20" font-size="6.6" text-anchor="middle" font-weight="normal" fill="#2a2a2a" stroke="#2a2a2a" stroke-width="0.2" >210</text>
<text x="261.85" y="368.20" font-size="6.6" text-anchor="middle" font-weight="normal" fill="#2a2a2a" stroke="#2a2a2a" stroke-width="0.2" >240</text>
<text x="274.60" y="368.20" font-size="6.6" text-anchor="middle" font-weight="normal" fill="#2a2a2a" stroke="#2a2a2a" stroke-width="0.2" >270</text>
<circle cx="197.10" cy="293.20" r="0.85" fill="#333"/>
<circle cx="199.10" cy="293.20" r="0.85" fill="#333"/>
<circle cx="235.35" cy="293.20" r="0.85" fill="#333"/>
<circle cx="237.35" cy="293.20" r="0.85" fill="#333"/>
<circle cx="247.10" cy="293.20" r="0.85" fill="#333"/>
<circle cx="249.10" cy="293.20" r="0.85" fill="#333"/>
<circle cx="251.10" cy="293.20" r="0.85" fill="#333"/>
<circle cx="261.85" cy="293.20" r="0.85" fill="#333"/>
<circle cx="274.60" cy="293.20" r="0.85" fill="#333"/>
<text x="0" y="0" font-size="7.6" text-anchor="middle" fill="#333333" stroke="#333333" stroke-width="0.32" textLength="28.5" lengthAdjust="spacingAndGlyphs" transform="translate(164.50,325.80) rotate(-90)">CD4<tspan font-size="4.8" dy="-2.6">+</tspan><tspan dy="2.6">IFNγ<tspan font-size="4.8" dy="-2.6">+</tspan><tspan dy="2.6"></tspan></tspan></text>
<text x="0" y="0" font-size="7.6" text-anchor="middle" fill="#333333" stroke="#333333" stroke-width="0.32" textLength="27" lengthAdjust="spacingAndGlyphs" transform="translate(174.60,325.30) rotate(-90)">/CD4<tspan font-size="4.8" dy="-2.6">+</tspan><tspan dy="2.6"> (%)</tspan></text>
<text x="154.00" y="277.40" font-size="11.6" text-anchor="start" font-weight="bold" fill="#111" >C</text>
<rect x="52.30" y="409.90" width="9.10" height="61.60" fill="#f9cd93" stroke="none" stroke-width="0" />
<line x1="61.00" y1="409.90" x2="61.00" y2="471.50" stroke="#2a2050" stroke-width="1.2" stroke-dasharray="1.5,1.2"/>
<line x1="105.50" y1="458.40" x2="105.50" y2="471.00" stroke="#d4c494" stroke-width="0.8" />
<line x1="104.00" y1="458.40" x2="107.00" y2="458.40" stroke="#d4c494" stroke-width="0.8" />
<line x1="130.00" y1="458.90" x2="130.00" y2="471.00" stroke="#d4c494" stroke-width="0.8" />
<line x1="128.50" y1="458.90" x2="131.50" y2="458.90" stroke="#d4c494" stroke-width="0.8" />
<line x1="81.00" y1="453.50" x2="81.00" y2="471.50" stroke="#9896bc" stroke-width="1.0" />
<line x1="79.20" y1="453.50" x2="82.80" y2="453.50" stroke="#646482" stroke-width="1.1" />
<line x1="93.25" y1="433.40" x2="93.25" y2="466.60" stroke="#9896bc" stroke-width="1.0" />
<line x1="91.45" y1="433.40" x2="95.05" y2="433.40" stroke="#646482" stroke-width="1.1" />
<line x1="91.45" y1="466.60" x2="95.05" y2="466.60" stroke="#646482" stroke-width="1.0" />
<line x1="105.50" y1="410.20" x2="105.50" y2="418.10" stroke="#9896bc" stroke-width="1.0" />
<line x1="105.50" y1="424.70" x2="105.50" y2="450.50" stroke="#9896bc" stroke-width="1.0" />
<line x1="103.70" y1="410.20" x2="107.30" y2="410.20" stroke="#646482" stroke-width="1.1" />
<line x1="103.70" y1="450.50" x2="107.30" y2="450.50" stroke="#646482" stroke-width="1.0" />
<line x1="117.75" y1="425.00" x2="117.75" y2="466.30" stroke="#9896bc" stroke-width="1.0" />
<line x1="115.95" y1="417.60" x2="119.55" y2="417.60" stroke="#646482" stroke-width="1.1" />
<line x1="115.95" y1="466.30" x2="119.55" y2="466.30" stroke="#646482" stroke-width="1.0" />
<line x1="130.00" y1="415.60" x2="130.00" y2="418.10" stroke="#9896bc" stroke-width="1.0" />
<line x1="130.00" y1="424.70" x2="130.00" y2="467.10" stroke="#9896bc" stroke-width="1.0" />
<line x1="128.20" y1="415.60" x2="131.80" y2="415.60" stroke="#646482" stroke-width="1.1" />
<line x1="128.20" y1="467.10" x2="131.80" y2="467.10" stroke="#646482" stroke-width="1.0" />
<line x1="52.30" y1="471.50" x2="133.50" y2="471.50" stroke="#1e1e1e" stroke-width="1.3" />
<polyline points="56.50,471.30 68.75,471.30 81.00,471.30 93.25,471.30 105.50,471.30 117.75,471.30 130.00,471.30" fill="none" stroke="#c4a22c" stroke-width="1.2" stroke-opacity="0.85"/>
<rect x="-1.8" y="-1.8" width="3.6" height="3.6" fill="#c9a52a" transform="translate(56.50,471.30) rotate(45)"/>
<rect x="-1.8" y="-1.8" width="3.6" height="3.6" fill="#c9a52a" transform="translate(68.75,471.30) rotate(45)"/>
<rect x="-1.8" y="-1.8" width="3.6" height="3.6" fill="#c9a52a" transform="translate(81.00,471.30) rotate(45)"/>
<rect x="-1.8" y="-1.8" width="3.6" height="3.6" fill="#c9a52a" transform="translate(93.25,471.30) rotate(45)"/>
<rect x="-1.8" y="-1.8" width="3.6" height="3.6" fill="#c9a52a" transform="translate(105.50,471.30) rotate(45)"/>
<rect x="-1.8" y="-1.8" width="3.6" height="3.6" fill="#c9a52a" transform="translate(117.75,471.30) rotate(45)"/>
<rect x="-1.8" y="-1.8" width="3.6" height="3.6" fill="#c9a52a" transform="translate(130.00,471.30) rotate(45)"/>
<polyline points="56.50,471.30 68.75,471.30 81.00,467.90 93.25,444.70 105.50,429.30 117.75,442.40 130.00,447.70" fill="none" stroke="#2a2672" stroke-width="1.3"/>
<circle cx="56.50" cy="471.30" r="2.0" fill="#2a2672"/>
<circle cx="68.75" cy="471.30" r="2.0" fill="#2a2672"/>
<circle cx="81.00" cy="467.90" r="2.0" fill="#2a2672"/>
<circle cx="93.25" cy="444.70" r="2.0" fill="#2a2672"/>
<circle cx="105.50" cy="429.30" r="2.0" fill="#2a2672"/>
<circle cx="117.75" cy="442.40" r="2.0" fill="#2a2672"/>
<circle cx="130.00" cy="447.70" r="2.0" fill="#2a2672"/>
<line x1="52.30" y1="407.40" x2="52.30" y2="418.10" stroke="#1e1e1e" stroke-width="1.3" />
<line x1="52.30" y1="424.70" x2="52.30" y2="472.10" stroke="#1e1e1e" stroke-width="1.3" />
<line x1="50.50" y1="418.10" x2="54.10" y2="418.10" stroke="#1e1e1e" stroke-width="1.0" />
<line x1="50.50" y1="424.70" x2="54.10" y2="424.70" stroke="#1e1e1e" stroke-width="1.0" />
<line x1="49.30" y1="409.90" x2="52.30" y2="409.90" stroke="#1e1e1e" stroke-width="0.9" />
<text x="46.00" y="412.10" font-size="6.2" text-anchor="end" font-weight="normal" fill="#303030" stroke="#303030" stroke-width="0.12" >6000</text>
<line x1="49.30" y1="416.40" x2="52.30" y2="416.40" stroke="#1e1e1e" stroke-width="0.9" />
<text x="46.00" y="418.60" font-size="6.2" text-anchor="end" font-weight="normal" fill="#303030" stroke="#303030" stroke-width="0.12" >3000</text>
<line x1="49.30" y1="425.00" x2="52.30" y2="425.00" stroke="#1e1e1e" stroke-width="0.9" />
<text x="46.00" y="427.20" font-size="6.2" text-anchor="end" font-weight="normal" fill="#303030" stroke="#303030" stroke-width="0.12" >2000</text>
<line x1="49.30" y1="436.50" x2="52.30" y2="436.50" stroke="#1e1e1e" stroke-width="0.9" />
<text x="46.00" y="438.70" font-size="6.2" text-anchor="end" font-weight="normal" fill="#303030" stroke="#303030" stroke-width="0.12" >1500</text>
<line x1="49.30" y1="448.20" x2="52.30" y2="448.20" stroke="#1e1e1e" stroke-width="0.9" />
<text x="46.00" y="450.40" font-size="6.2" text-anchor="end" font-weight="normal" fill="#303030" stroke="#303030" stroke-width="0.12" >1000</text>
<line x1="49.30" y1="460.00" x2="52.30" y2="460.00" stroke="#1e1e1e" stroke-width="0.9" />
<text x="46.00" y="462.20" font-size="6.2" text-anchor="end" font-weight="normal" fill="#303030" stroke="#303030" stroke-width="0.12" >500</text>
<line x1="49.30" y1="471.50" x2="52.30" y2="471.50" stroke="#1e1e1e" stroke-width="0.9" />
<text x="46.00" y="473.70" font-size="6.2" text-anchor="end" font-weight="normal" fill="#303030" stroke="#303030" stroke-width="0.12" >0</text>
<text x="56.50" y="484.00" font-size="6.6" text-anchor="middle" font-weight="normal" fill="#2a2a2a" stroke="#2a2a2a" stroke-width="0.2" >90</text>
<text x="68.75" y="484.00" font-size="6.6" text-anchor="middle" font-weight="normal" fill="#2a2a2a" stroke="#2a2a2a" stroke-width="0.2" >120</text>
<text x="81.00" y="484.00" font-size="6.6" text-anchor="middle" font-weight="normal" fill="#2a2a2a" stroke="#2a2a2a" stroke-width="0.2" >150</text>
<text x="93.25" y="484.00" font-size="6.6" text-anchor="middle" font-weight="normal" fill="#2a2a2a" stroke="#2a2a2a" stroke-width="0.2" >180</text>
<text x="105.50" y="484.00" font-size="6.6" text-anchor="middle" font-weight="normal" fill="#2a2a2a" stroke="#2a2a2a" stroke-width="0.2" >210</text>
<text x="117.75" y="484.00" font-size="6.6" text-anchor="middle" font-weight="normal" fill="#2a2a2a" stroke="#2a2a2a" stroke-width="0.2" >240</text>
<text x="130.00" y="484.00" font-size="6.6" text-anchor="middle" font-weight="normal" fill="#2a2a2a" stroke="#2a2a2a" stroke-width="0.2" >270</text>
<circle cx="93.25" cy="406.90" r="0.85" fill="#333"/>
<circle cx="105.50" cy="406.90" r="0.85" fill="#333"/>
<text x="0" y="0" font-size="7.6" text-anchor="middle" fill="#333333" stroke="#333333" stroke-width="0.32" textLength="64.4" lengthAdjust="spacingAndGlyphs" transform="translate(17.00,440.70) rotate(-90)">CD8<tspan font-size="4.8" dy="-2.6">+</tspan><tspan dy="2.6">IFNγ<tspan font-size="4.8" dy="-2.6">+</tspan><tspan dy="2.6">CD107a<tspan font-size="4.8" dy="-2.6">+</tspan><tspan dy="2.6"> cells</tspan></tspan></tspan></text>
<text x="0" y="0" font-size="7.6" text-anchor="middle" fill="#333333" stroke="#333333" stroke-width="0.32" textLength="17.8" lengthAdjust="spacingAndGlyphs" transform="translate(26.60,440.70) rotate(-90)">/100µL</text>
<text x="7.00" y="394.50" font-size="11.6" text-anchor="start" font-weight="bold" fill="#111" >D</text>
<rect x="194.60" y="411.90" width="8.00" height="59.80" fill="#f9cd93" stroke="none" stroke-width="0" />
<line x1="202.20" y1="411.90" x2="202.20" y2="471.70" stroke="#2a2050" stroke-width="1.2" stroke-dasharray="1.5,1.2"/>
<line x1="236.34" y1="464.00" x2="236.34" y2="471.00" stroke="#d4c494" stroke-width="0.8" />
<line x1="234.84" y1="464.00" x2="237.84" y2="464.00" stroke="#d4c494" stroke-width="0.8" />
<line x1="249.12" y1="462.00" x2="249.12" y2="471.00" stroke="#d4c494" stroke-width="0.8" />
<line x1="247.62" y1="462.00" x2="250.62" y2="462.00" stroke="#d4c494" stroke-width="0.8" />
<line x1="261.90" y1="464.00" x2="261.90" y2="471.00" stroke="#d4c494" stroke-width="0.8" />
<line x1="260.40" y1="464.00" x2="263.40" y2="464.00" stroke="#d4c494" stroke-width="0.8" />
<line x1="274.68" y1="464.00" x2="274.68" y2="471.00" stroke="#d4c494" stroke-width="0.8" />
<line x1="273.18" y1="464.00" x2="276.18" y2="464.00" stroke="#d4c494" stroke-width="0.8" />
<line x1="198.00" y1="461.80" x2="198.00" y2="471.70" stroke="#b07890" stroke-width="1.0" />
<line x1="196.20" y1="461.80" x2="199.80" y2="461.80" stroke="#b07890" stroke-width="1.1" />
<line x1="210.78" y1="460.60" x2="210.78" y2="471.70" stroke="#9896bc" stroke-width="1.0" />
<line x1="208.98" y1="460.60" x2="212.58" y2="460.60" stroke="#646482" stroke-width="1.1" />
<line x1="223.56" y1="453.50" x2="223.56" y2="471.70" stroke="#9896bc" stroke-width="1.0" />
<line x1="221.76" y1="453.50" x2="225.36" y2="453.50" stroke="#646482" stroke-width="1.1" />
<line x1="236.34" y1="418.20" x2="236.34" y2="421.10" stroke="#9896bc" stroke-width="1.0" />
<line x1="236.34" y1="426.40" x2="236.34" y2="462.20" stroke="#9896bc" stroke-width="1.0" />
<line x1="234.54" y1="418.20" x2="238.14" y2="418.20" stroke="#646482" stroke-width="1.1" />
<line x1="234.54" y1="462.20" x2="238.14" y2="462.20" stroke="#646482" stroke-width="1.0" />
<line x1="249.12" y1="418.00" x2="249.12" y2="421.10" stroke="#9896bc" stroke-width="1.0" />
<line x1="249.12" y1="426.40" x2="249.12" y2="450.50" stroke="#9896bc" stroke-width="1.0" />
<line x1="247.32" y1="418.00" x2="250.92" y2="418.00" stroke="#646482" stroke-width="1.1" />
<line x1="247.32" y1="450.50" x2="250.92" y2="450.50" stroke="#646482" stroke-width="1.0" />
<line x1="261.90" y1="415.00" x2="261.90" y2="421.10" stroke="#9896bc" stroke-width="1.0" />
<line x1="261.90" y1="426.40" x2="261.90" y2="462.00" stroke="#9896bc" stroke-width="1.0" />
<line x1="260.10" y1="415.00" x2="263.70" y2="415.00" stroke="#646482" stroke-width="1.1" />
<line x1="260.10" y1="462.00" x2="263.70" y2="462.00" stroke="#646482" stroke-width="1.0" />
<line x1="274.68" y1="418.20" x2="274.68" y2="421.10" stroke="#9896bc" stroke-width="1.0" />
<line x1="274.68" y1="426.40" x2="274.68" y2="463.40" stroke="#9896bc" stroke-width="1.0" />
<line x1="272.88" y1="418.20" x2="276.48" y2="418.20" stroke="#646482" stroke-width="1.1" />
<line x1="272.88" y1="463.40" x2="276.48" y2="463.40" stroke="#646482" stroke-width="1.0" />
<line x1="194.60" y1="471.70" x2="278.50" y2="471.70" stroke="#1e1e1e" stroke-width="1.3" />
<polyline points="198.00,469.50 210.78,469.50 223.56,469.20 236.34,469.00 249.12,470.00 261.90,468.00 274.68,469.50" fill="none" stroke="#c4a22c" stroke-width="1.2" stroke-opacity="0.85"/>
<rect x="-1.8" y="-1.8" width="3.6" height="3.6" fill="#c9a52a" transform="translate(198.00,469.50) rotate(45)"/>
<rect x="-1.8" y="-1.8" width="3.6" height="3.6" fill="#c9a52a" transform="translate(210.78,469.50) rotate(45)"/>
<rect x="-1.8" y="-1.8" width="3.6" height="3.6" fill="#c9a52a" transform="translate(223.56,469.20) rotate(45)"/>
<rect x="-1.8" y="-1.8" width="3.6" height="3.6" fill="#c9a52a" transform="translate(236.34,469.00) rotate(45)"/>
<rect x="-1.8" y="-1.8" width="3.6" height="3.6" fill="#c9a52a" transform="translate(249.12,470.00) rotate(45)"/>
<rect x="-1.8" y="-1.8" width="3.6" height="3.6" fill="#c9a52a" transform="translate(261.90,468.00) rotate(45)"/>
<rect x="-1.8" y="-1.8" width="3.6" height="3.6" fill="#c9a52a" transform="translate(274.68,469.50) rotate(45)"/>
<polyline points="198.00,467.50 210.78,469.20 223.56,462.30 236.34,449.50 249.12,429.00 261.90,432.90 274.68,448.60" fill="none" stroke="#2a2672" stroke-width="1.3"/>
<circle cx="198.00" cy="467.50" r="2.0" fill="#2a2672"/>
<circle cx="210.78" cy="469.20" r="2.0" fill="#2a2672"/>
<circle cx="223.56" cy="462.30" r="2.0" fill="#2a2672"/>
<circle cx="236.34" cy="449.50" r="2.0" fill="#2a2672"/>
<circle cx="249.12" cy="429.00" r="2.0" fill="#2a2672"/>
<circle cx="261.90" cy="432.90" r="2.0" fill="#2a2672"/>
<circle cx="274.68" cy="448.60" r="2.0" fill="#2a2672"/>
<line x1="194.60" y1="410.50" x2="194.60" y2="421.10" stroke="#1e1e1e" stroke-width="1.3" />
<line x1="194.60" y1="426.40" x2="194.60" y2="472.30" stroke="#1e1e1e" stroke-width="1.3" />
<line x1="192.80" y1="421.10" x2="196.40" y2="421.10" stroke="#1e1e1e" stroke-width="1.0" />
<line x1="192.80" y1="426.40" x2="196.40" y2="426.40" stroke="#1e1e1e" stroke-width="1.0" />
<line x1="191.60" y1="411.90" x2="194.60" y2="411.90" stroke="#1e1e1e" stroke-width="0.9" />
<text x="188.30" y="414.10" font-size="6.2" text-anchor="end" font-weight="normal" fill="#303030" stroke="#303030" stroke-width="0.12" >16</text>
<line x1="191.60" y1="421.10" x2="194.60" y2="421.10" stroke="#1e1e1e" stroke-width="0.9" />
<text x="188.30" y="423.30" font-size="6.2" text-anchor="end" font-weight="normal" fill="#303030" stroke="#303030" stroke-width="0.12" >8</text>
<line x1="191.60" y1="426.40" x2="194.60" y2="426.40" stroke="#1e1e1e" stroke-width="0.9" />
<text x="188.30" y="428.60" font-size="6.2" text-anchor="end" font-weight="normal" fill="#303030" stroke="#303030" stroke-width="0.12" >8</text>
<line x1="191.60" y1="437.60" x2="194.60" y2="437.60" stroke="#1e1e1e" stroke-width="0.9" />
<text x="188.30" y="439.80" font-size="6.2" text-anchor="end" font-weight="normal" fill="#303030" stroke="#303030" stroke-width="0.12" >6</text>
<line x1="191.60" y1="449.10" x2="194.60" y2="449.10" stroke="#1e1e1e" stroke-width="0.9" />
<text x="188.30" y="451.30" font-size="6.2" text-anchor="end" font-weight="normal" fill="#303030" stroke="#303030" stroke-width="0.12" >4</text>
<line x1="191.60" y1="460.10" x2="194.60" y2="460.10" stroke="#1e1e1e" stroke-width="0.9" />
<text x="188.30" y="462.30" font-size="6.2" text-anchor="end" font-weight="normal" fill="#303030" stroke="#303030" stroke-width="0.12" >2</text>
<line x1="191.60" y1="471.70" x2="194.60" y2="471.70" stroke="#1e1e1e" stroke-width="0.9" />
<text x="188.30" y="473.90" font-size="6.2" text-anchor="end" font-weight="normal" fill="#303030" stroke="#303030" stroke-width="0.12" >0</text>
<text x="198.00" y="484.00" font-size="6.6" text-anchor="middle" font-weight="normal" fill="#2a2a2a" stroke="#2a2a2a" stroke-width="0.2" >90</text>
<text x="210.78" y="484.00" font-size="6.6" text-anchor="middle" font-weight="normal" fill="#2a2a2a" stroke="#2a2a2a" stroke-width="0.2" >120</text>
<text x="223.56" y="484.00" font-size="6.6" text-anchor="middle" font-weight="normal" fill="#2a2a2a" stroke="#2a2a2a" stroke-width="0.2" >150</text>
<text x="236.34" y="484.00" font-size="6.6" text-anchor="middle" font-weight="normal" fill="#2a2a2a" stroke="#2a2a2a" stroke-width="0.2" >180</text>
<text x="249.12" y="484.00" font-size="6.6" text-anchor="middle" font-weight="normal" fill="#2a2a2a" stroke="#2a2a2a" stroke-width="0.2" >210</text>
<text x="261.90" y="484.00" font-size="6.6" text-anchor="middle" font-weight="normal" fill="#2a2a2a" stroke="#2a2a2a" stroke-width="0.2" >240</text>
<text x="274.68" y="484.00" font-size="6.6" text-anchor="middle" font-weight="normal" fill="#2a2a2a" stroke="#2a2a2a" stroke-width="0.2" >270</text>
<circle cx="236.34" cy="408.00" r="0.85" fill="#333"/>
<circle cx="248.12" cy="408.00" r="0.85" fill="#333"/>
<circle cx="250.12" cy="408.00" r="0.85" fill="#333"/>
<circle cx="260.90" cy="408.00" r="0.85" fill="#333"/>
<circle cx="262.90" cy="408.00" r="0.85" fill="#333"/>
<circle cx="274.68" cy="408.00" r="0.85" fill="#333"/>
<text x="0" y="0" font-size="7.6" text-anchor="middle" fill="#333333" stroke="#333333" stroke-width="0.32" textLength="51" lengthAdjust="spacingAndGlyphs" transform="translate(166.20,440.30) rotate(-90)">CD8<tspan font-size="4.8" dy="-2.6">+</tspan><tspan dy="2.6">IFNγ<tspan font-size="4.8" dy="-2.6">+</tspan><tspan dy="2.6">CD107a<tspan font-size="4.8" dy="-2.6">+</tspan><tspan dy="2.6"></tspan></tspan></tspan></text>
<text x="0" y="0" font-size="7.6" text-anchor="middle" fill="#333333" stroke="#333333" stroke-width="0.32" textLength="28.6" lengthAdjust="spacingAndGlyphs" transform="translate(176.30,440.70) rotate(-90)">/CD8<tspan font-size="4.8" dy="-2.6">+</tspan><tspan dy="2.6"> (%)</tspan></text>
<text x="155.50" y="394.50" font-size="11.6" text-anchor="start" font-weight="bold" fill="#111" >E</text>
<line x1="290.50" y1="263.50" x2="290.50" y2="499.50" stroke="#2a2a2a" stroke-width="1.25" />
<text x="300.10" y="277.40" font-size="11.6" text-anchor="start" font-weight="bold" fill="#111" >F</text>
<text x="300.10" y="394.50" font-size="11.6" text-anchor="start" font-weight="bold" fill="#111" >G</text>
<line x1="358.50" y1="305.00" x2="369.70" y2="299.00" stroke="#c4c4d0" stroke-width="0.9" />
<line x1="358.50" y1="319.50" x2="369.70" y2="313.80" stroke="#c4c4d0" stroke-width="0.9" />
<line x1="358.50" y1="356.00" x2="369.70" y2="313.80" stroke="#c4c4d0" stroke-width="0.9" />
<line x1="358.50" y1="334.40" x2="369.70" y2="303.90" stroke="#c4c4d0" stroke-width="0.9" />
<line x1="358.50" y1="356.00" x2="369.70" y2="341.80" stroke="#c4c4d0" stroke-width="0.9" />
<line x1="358.50" y1="355.00" x2="369.70" y2="345.90" stroke="#c4c4d0" stroke-width="0.9" />
<line x1="358.50" y1="352.80" x2="369.70" y2="349.20" stroke="#c4c4d0" stroke-width="0.9" />
<line x1="358.50" y1="351.20" x2="369.70" y2="352.50" stroke="#c4c4d0" stroke-width="0.9" />
<line x1="358.50" y1="356.00" x2="369.70" y2="355.00" stroke="#c4c4d0" stroke-width="0.9" />
<line x1="394.00" y1="356.00" x2="405.50" y2="349.20" stroke="#d8d0c0" stroke-width="0.9" />
<line x1="349.10" y1="356.30" x2="379.60" y2="356.30" stroke="#1e1e1e" stroke-width="1.3" />
<line x1="383.60" y1="356.30" x2="415.90" y2="356.30" stroke="#1e1e1e" stroke-width="1.3" />
<line x1="383.60" y1="299.80" x2="383.60" y2="356.30" stroke="#2a2a3a" stroke-width="1.4" stroke-dasharray="1.5,1.2"/>
<circle cx="358.50" cy="305.00" r="1.8" fill="#2a2672"/>
<circle cx="358.50" cy="319.50" r="1.8" fill="#2a2672"/>
<circle cx="358.50" cy="334.40" r="1.8" fill="#2a2672"/>
<circle cx="358.50" cy="351.20" r="1.8" fill="#2a2672"/>
<circle cx="358.50" cy="352.80" r="1.8" fill="#2a2672"/>
<circle cx="358.50" cy="355.00" r="1.8" fill="#2a2672"/>
<circle cx="358.50" cy="356.60" r="1.8" fill="#2a2672"/>
<circle cx="369.70" cy="299.00" r="1.8" fill="#2a2672"/>
<circle cx="369.70" cy="303.90" r="1.8" fill="#2a2672"/>
<circle cx="369.70" cy="306.70" r="1.8" fill="#2a2672"/>
<circle cx="369.70" cy="313.80" r="1.8" fill="#2a2672"/>
<circle cx="369.70" cy="341.80" r="1.8" fill="#2a2672"/>
<circle cx="369.70" cy="345.90" r="1.8" fill="#2a2672"/>
<circle cx="369.70" cy="349.20" r="1.8" fill="#2a2672"/>
<circle cx="369.70" cy="352.50" r="1.8" fill="#2a2672"/>
<circle cx="369.70" cy="355.00" r="1.8" fill="#2a2672"/>
<rect x="392.30" y="351.80" width="3.4" height="3.4" fill="#d2a52a"/>
<rect x="392.30" y="354.30" width="3.4" height="3.4" fill="#d2a52a"/>
<rect x="403.80" y="347.50" width="3.4" height="3.4" fill="#d2a52a"/>
<rect x="403.80" y="352.40" width="3.4" height="3.4" fill="#d2a52a"/>
<rect x="403.80" y="354.30" width="3.4" height="3.4" fill="#d2a52a"/>
<line x1="349.10" y1="294.00" x2="349.10" y2="307.20" stroke="#1e1e1e" stroke-width="1.3" />
<line x1="349.10" y1="312.60" x2="349.10" y2="356.90" stroke="#1e1e1e" stroke-width="1.3" />
<line x1="347.30" y1="307.20" x2="350.90" y2="307.20" stroke="#1e1e1e" stroke-width="1.0" />
<line x1="347.30" y1="312.60" x2="350.90" y2="312.60" stroke="#1e1e1e" stroke-width="1.0" />
<line x1="346.10" y1="295.40" x2="349.10" y2="295.40" stroke="#1e1e1e" stroke-width="0.9" />
<text x="342.80" y="297.60" font-size="6.2" text-anchor="end" font-weight="normal" fill="#303030" stroke="#303030" stroke-width="0.12" >8000</text>
<line x1="346.10" y1="301.80" x2="349.10" y2="301.80" stroke="#1e1e1e" stroke-width="0.9" />
<text x="342.80" y="304.00" font-size="6.2" text-anchor="end" font-weight="normal" fill="#303030" stroke="#303030" stroke-width="0.12" >4000</text>
<line x1="346.10" y1="312.60" x2="349.10" y2="312.60" stroke="#1e1e1e" stroke-width="0.9" />
<text x="342.80" y="314.80" font-size="6.2" text-anchor="end" font-weight="normal" fill="#303030" stroke="#303030" stroke-width="0.12" >240</text>
<line x1="346.10" y1="323.60" x2="349.10" y2="323.60" stroke="#1e1e1e" stroke-width="0.9" />
<text x="342.80" y="325.80" font-size="6.2" text-anchor="end" font-weight="normal" fill="#303030" stroke="#303030" stroke-width="0.12" >180</text>
<line x1="346.10" y1="334.50" x2="349.10" y2="334.50" stroke="#1e1e1e" stroke-width="0.9" />
<text x="342.80" y="336.70" font-size="6.2" text-anchor="end" font-weight="normal" fill="#303030" stroke="#303030" stroke-width="0.12" >120</text>
<line x1="346.10" y1="345.40" x2="349.10" y2="345.40" stroke="#1e1e1e" stroke-width="0.9" />
<text x="342.80" y="347.60" font-size="6.2" text-anchor="end" font-weight="normal" fill="#303030" stroke="#303030" stroke-width="0.12" >60</text>
<line x1="346.10" y1="356.30" x2="349.10" y2="356.30" stroke="#1e1e1e" stroke-width="0.9" />
<text x="342.80" y="358.50" font-size="6.2" text-anchor="end" font-weight="normal" fill="#303030" stroke="#303030" stroke-width="0.12" >0</text>
<text x="358.50" y="368.00" font-size="6.6" text-anchor="middle" font-weight="normal" fill="#303030" stroke="#303030" stroke-width="0.08" >90</text>
<text x="369.70" y="368.00" font-size="6.6" text-anchor="middle" font-weight="normal" fill="#303030" stroke="#303030" stroke-width="0.08" >210</text>
<text x="394.00" y="368.00" font-size="6.6" text-anchor="middle" font-weight="normal" fill="#303030" stroke="#303030" stroke-width="0.08" >90</text>
<text x="405.50" y="368.00" font-size="6.6" text-anchor="middle" font-weight="normal" fill="#303030" stroke="#303030" stroke-width="0.08" >210</text>
<text x="339.00" y="367.60" font-size="6.0" text-anchor="middle" font-weight="normal" fill="#303030" stroke="#303030" stroke-width="0.05" >day</text>
<line x1="360.60" y1="291.20" x2="371.40" y2="291.20" stroke="#333" stroke-width="0.9" />
<circle cx="364.90" cy="287.40" r="0.95" fill="#333"/>
<circle cx="367.10" cy="287.40" r="0.95" fill="#333"/>
<line x1="393.20" y1="291.20" x2="403.90" y2="291.20" stroke="#333" stroke-width="0.9" />
<text x="398.55" y="288.20" font-size="5.6" text-anchor="middle" font-weight="normal" fill="#333" stroke="#333" stroke-width="0.05" >ns</text>
<text x="0" y="0" font-size="7.6" text-anchor="middle" fill="#333333" stroke="#333333" stroke-width="0.32" textLength="59.3" lengthAdjust="spacingAndGlyphs" transform="translate(323.20,326.20) rotate(-90)">CD4<tspan font-size="4.8" dy="-2.6">+</tspan><tspan dy="2.6">IFNγ<tspan font-size="4.8" dy="-2.6">+</tspan><tspan dy="2.6"> cells/100µL</tspan></tspan></text>
<line x1="358.50" y1="423.00" x2="369.70" y2="423.50" stroke="#c4c4d0" stroke-width="0.9" />
<line x1="358.50" y1="445.00" x2="369.70" y2="428.50" stroke="#c4c4d0" stroke-width="0.9" />
<line x1="358.50" y1="471.00" x2="369.70" y2="428.50" stroke="#c4c4d0" stroke-width="0.9" />
<line x1="358.50" y1="470.00" x2="369.70" y2="428.50" stroke="#c4c4d0" stroke-width="0.9" />
<line x1="358.50" y1="469.70" x2="369.70" y2="429.50" stroke="#c4c4d0" stroke-width="0.9" />
<line x1="358.50" y1="471.30" x2="369.70" y2="471.30" stroke="#c4c4d0" stroke-width="0.9" />
<line x1="394.00" y1="471.00" x2="405.50" y2="422.70" stroke="#c8c8d8" stroke-width="0.9" />
<line x1="394.00" y1="471.00" x2="405.50" y2="448.20" stroke="#c8c8d8" stroke-width="0.9" />
<line x1="349.10" y1="471.80" x2="379.60" y2="471.80" stroke="#1e1e1e" stroke-width="1.3" />
<line x1="383.60" y1="471.80" x2="415.90" y2="471.80" stroke="#1e1e1e" stroke-width="1.3" />
<line x1="383.60" y1="415.30" x2="383.60" y2="471.80" stroke="#2a2a3a" stroke-width="1.4" stroke-dasharray="1.5,1.2"/>
<circle cx="358.50" cy="423.00" r="1.8" fill="#2a2672"/>
<circle cx="358.50" cy="445.00" r="1.8" fill="#2a2672"/>
<circle cx="358.50" cy="469.70" r="1.8" fill="#2a2672"/>
<circle cx="358.50" cy="471.30" r="1.8" fill="#2a2672"/>
<circle cx="369.70" cy="416.50" r="1.8" fill="#2a2672"/>
<circle cx="369.70" cy="419.40" r="1.8" fill="#2a2672"/>
<circle cx="369.70" cy="421.90" r="1.8" fill="#2a2672"/>
<circle cx="369.70" cy="424.00" r="1.8" fill="#2a2672"/>
<circle cx="369.70" cy="432.30" r="1.8" fill="#2a2672"/>
<circle cx="369.70" cy="435.60" r="1.8" fill="#2a2672"/>
<circle cx="369.70" cy="471.30" r="1.8" fill="#2a2672"/>
<rect x="392.30" y="467.80" width="3.4" height="3.4" fill="#d2a52a"/>
<rect x="392.30" y="469.80" width="3.4" height="3.4" fill="#d2a52a"/>
<rect x="403.80" y="421.00" width="3.4" height="3.4" fill="#d2a52a"/>
<rect x="403.80" y="446.50" width="3.4" height="3.4" fill="#d2a52a"/>
<rect x="403.80" y="468.00" width="3.4" height="3.4" fill="#d2a52a"/>
<rect x="403.80" y="470.10" width="3.4" height="3.4" fill="#d2a52a"/>
<line x1="349.10" y1="410.40" x2="349.10" y2="423.50" stroke="#1e1e1e" stroke-width="1.3" />
<line x1="349.10" y1="429.30" x2="349.10" y2="472.40" stroke="#1e1e1e" stroke-width="1.3" />
<line x1="347.30" y1="423.50" x2="350.90" y2="423.50" stroke="#1e1e1e" stroke-width="1.0" />
<line x1="347.30" y1="429.30" x2="350.90" y2="429.30" stroke="#1e1e1e" stroke-width="1.0" />
<line x1="346.10" y1="413.00" x2="349.10" y2="413.00" stroke="#1e1e1e" stroke-width="0.9" />
<text x="342.80" y="415.20" font-size="6.2" text-anchor="end" font-weight="normal" fill="#303030" stroke="#303030" stroke-width="0.12" >20000</text>
<line x1="346.10" y1="418.60" x2="349.10" y2="418.60" stroke="#1e1e1e" stroke-width="0.9" />
<text x="342.80" y="420.80" font-size="6.2" text-anchor="end" font-weight="normal" fill="#303030" stroke="#303030" stroke-width="0.12" >10000</text>
<line x1="346.10" y1="429.30" x2="349.10" y2="429.30" stroke="#1e1e1e" stroke-width="0.9" />
<text x="342.80" y="431.50" font-size="6.2" text-anchor="end" font-weight="normal" fill="#303030" stroke="#303030" stroke-width="0.12" >1000</text>
<line x1="346.10" y1="439.90" x2="349.10" y2="439.90" stroke="#1e1e1e" stroke-width="0.9" />
<text x="342.80" y="442.10" font-size="6.2" text-anchor="end" font-weight="normal" fill="#303030" stroke="#303030" stroke-width="0.12" >750</text>
<line x1="346.10" y1="450.80" x2="349.10" y2="450.80" stroke="#1e1e1e" stroke-width="0.9" />
<text x="342.80" y="453.00" font-size="6.2" text-anchor="end" font-weight="normal" fill="#303030" stroke="#303030" stroke-width="0.12" >500</text>
<line x1="346.10" y1="461.30" x2="349.10" y2="461.30" stroke="#1e1e1e" stroke-width="0.9" />
<text x="342.80" y="463.50" font-size="6.2" text-anchor="end" font-weight="normal" fill="#303030" stroke="#303030" stroke-width="0.12" >250</text>
<line x1="346.10" y1="471.80" x2="349.10" y2="471.80" stroke="#1e1e1e" stroke-width="0.9" />
<text x="342.80" y="474.00" font-size="6.2" text-anchor="end" font-weight="normal" fill="#303030" stroke="#303030" stroke-width="0.12" >0</text>
<text x="358.50" y="483.60" font-size="6.6" text-anchor="middle" font-weight="normal" fill="#303030" stroke="#303030" stroke-width="0.08" >90</text>
<text x="369.70" y="483.60" font-size="6.6" text-anchor="middle" font-weight="normal" fill="#303030" stroke="#303030" stroke-width="0.08" >210</text>
<text x="394.00" y="483.60" font-size="6.6" text-anchor="middle" font-weight="normal" fill="#303030" stroke="#303030" stroke-width="0.08" >90</text>
<text x="405.50" y="483.60" font-size="6.6" text-anchor="middle" font-weight="normal" fill="#303030" stroke="#303030" stroke-width="0.08" >210</text>
<text x="339.00" y="483.20" font-size="6.0" text-anchor="middle" font-weight="normal" fill="#303030" stroke="#303030" stroke-width="0.05" >day</text>
<line x1="360.60" y1="408.70" x2="371.40" y2="408.70" stroke="#333" stroke-width="0.9" />
<circle cx="366.00" cy="405.40" r="0.95" fill="#333"/>
<line x1="393.20" y1="408.20" x2="403.90" y2="408.20" stroke="#333" stroke-width="0.9" />
<text x="398.55" y="405.90" font-size="5.6" text-anchor="middle" font-weight="normal" fill="#333" stroke="#333" stroke-width="0.05" >ns</text>
<text x="0" y="0" font-size="7.6" text-anchor="middle" fill="#333333" stroke="#333333" stroke-width="0.32" textLength="50" lengthAdjust="spacingAndGlyphs" transform="translate(309.80,443.50) rotate(-90)">CD8<tspan font-size="4.8" dy="-2.6">+</tspan><tspan dy="2.6">IFNγ<tspan font-size="4.8" dy="-2.6">+</tspan><tspan dy="2.6">CD107a<tspan font-size="4.8" dy="-2.6">+</tspan><tspan dy="2.6"></tspan></tspan></tspan></text>
<text x="0" y="0" font-size="7.6" text-anchor="middle" fill="#333333" stroke="#333333" stroke-width="0.32" textLength="28.3" lengthAdjust="spacingAndGlyphs" transform="translate(320.60,442.90) rotate(-90)">cells/100µL</text>
<text x="449.20" y="277.40" font-size="11.6" text-anchor="start" font-weight="bold" fill="#111" >H</text>
<text x="432.20" y="394.50" font-size="11.6" text-anchor="start" font-weight="bold" fill="#111" >I</text>
<line x1="491.00" y1="316.70" x2="502.70" y2="355.00" stroke="#c8c8d4" stroke-width="0.9" />
<line x1="491.00" y1="342.80" x2="502.70" y2="336.00" stroke="#c8c8d4" stroke-width="0.9" />
<line x1="491.00" y1="349.70" x2="502.70" y2="345.50" stroke="#c8c8d4" stroke-width="0.9" />
<line x1="491.00" y1="355.80" x2="502.70" y2="349.70" stroke="#c8c8d4" stroke-width="0.9" />
<line x1="491.00" y1="355.80" x2="502.70" y2="351.60" stroke="#c8c8d4" stroke-width="0.9" />
<line x1="480.40" y1="356.20" x2="513.50" y2="356.20" stroke="#1e1e1e" stroke-width="1.3" />
<rect x="489.30" y="315.00" width="3.4" height="3.4" fill="#d2a52a"/>
<rect x="489.30" y="316.30" width="3.4" height="3.4" fill="#d2a52a"/>
<rect x="489.30" y="341.10" width="3.4" height="3.4" fill="#d2a52a"/>
<rect x="489.30" y="348.00" width="3.4" height="3.4" fill="#d2a52a"/>
<rect x="489.30" y="354.10" width="3.4" height="3.4" fill="#d2a52a"/>
<rect x="501.00" y="334.30" width="3.4" height="3.4" fill="#d2a52a"/>
<rect x="501.00" y="343.80" width="3.4" height="3.4" fill="#d2a52a"/>
<rect x="501.00" y="348.00" width="3.4" height="3.4" fill="#d2a52a"/>
<rect x="501.00" y="349.90" width="3.4" height="3.4" fill="#d2a52a"/>
<rect x="501.00" y="351.70" width="3.4" height="3.4" fill="#d2a52a"/>
<rect x="501.00" y="354.10" width="3.4" height="3.4" fill="#d2a52a"/>
<line x1="480.40" y1="297.40" x2="480.40" y2="356.80" stroke="#1e1e1e" stroke-width="1.3" />
<line x1="477.40" y1="298.30" x2="480.40" y2="298.30" stroke="#1e1e1e" stroke-width="0.9" />
<text x="474.10" y="300.50" font-size="6.2" text-anchor="end" font-weight="normal" fill="#303030" stroke="#303030" stroke-width="0.12" >120</text>
<line x1="477.40" y1="308.80" x2="480.40" y2="308.80" stroke="#1e1e1e" stroke-width="0.9" />
<text x="474.10" y="311.00" font-size="6.2" text-anchor="end" font-weight="normal" fill="#303030" stroke="#303030" stroke-width="0.12" >100</text>
<line x1="477.40" y1="318.10" x2="480.40" y2="318.10" stroke="#1e1e1e" stroke-width="0.9" />
<text x="474.10" y="320.30" font-size="6.2" text-anchor="end" font-weight="normal" fill="#303030" stroke="#303030" stroke-width="0.12" >80</text>
<line x1="477.40" y1="327.70" x2="480.40" y2="327.70" stroke="#1e1e1e" stroke-width="0.9" />
<text x="474.10" y="329.90" font-size="6.2" text-anchor="end" font-weight="normal" fill="#303030" stroke="#303030" stroke-width="0.12" >60</text>
<line x1="477.40" y1="337.20" x2="480.40" y2="337.20" stroke="#1e1e1e" stroke-width="0.9" />
<text x="474.10" y="339.40" font-size="6.2" text-anchor="end" font-weight="normal" fill="#303030" stroke="#303030" stroke-width="0.12" >40</text>
<line x1="477.40" y1="346.60" x2="480.40" y2="346.60" stroke="#1e1e1e" stroke-width="0.9" />
<text x="474.10" y="348.80" font-size="6.2" text-anchor="end" font-weight="normal" fill="#303030" stroke="#303030" stroke-width="0.12" >20</text>
<line x1="477.40" y1="356.20" x2="480.40" y2="356.20" stroke="#1e1e1e" stroke-width="0.9" />
<text x="474.10" y="358.40" font-size="6.2" text-anchor="end" font-weight="normal" fill="#303030" stroke="#303030" stroke-width="0.12" >0</text>
<text x="0" y="0" font-size="7.6" text-anchor="middle" fill="#333333" stroke="#333333" stroke-width="0.32" textLength="59" lengthAdjust="spacingAndGlyphs" transform="translate(459.20,327.70) rotate(-90)">CD4<tspan font-size="4.8" dy="-2.6">+</tspan><tspan dy="2.6">IFNγ<tspan font-size="4.8" dy="-2.6">+</tspan><tspan dy="2.6"> cells/100µL</tspan></tspan></text>
<text x="0" y="0" font-size="6.0" text-anchor="end" fill="#333" stroke="#333" stroke-width="0.15" transform="translate(494.6,364.6) rotate(-45)">before csCMVi</text>
<text x="0" y="0" font-size="6.0" text-anchor="end" fill="#333" stroke="#333" stroke-width="0.15" transform="translate(506.4,365.2) rotate(-45)">after csCMVi</text>
<line x1="491.00" y1="417.50" x2="502.70" y2="420.20" stroke="#c8c8d4" stroke-width="0.9" />
<line x1="491.00" y1="465.80" x2="502.70" y2="437.30" stroke="#c8c8d4" stroke-width="0.9" />
<line x1="491.00" y1="468.40" x2="502.70" y2="445.00" stroke="#c8c8d4" stroke-width="0.9" />
<line x1="491.00" y1="466.00" x2="502.70" y2="451.80" stroke="#c8c8d4" stroke-width="0.9" />
<line x1="491.00" y1="460.30" x2="502.70" y2="459.70" stroke="#c8c8d4" stroke-width="0.9" />
<line x1="491.00" y1="468.40" x2="502.70" y2="467.60" stroke="#c8c8d4" stroke-width="0.9" />
<line x1="480.40" y1="471.70" x2="513.50" y2="471.70" stroke="#1e1e1e" stroke-width="1.3" />
<rect x="489.30" y="415.80" width="3.4" height="3.4" fill="#d2a52a"/>
<rect x="489.30" y="418.50" width="3.4" height="3.4" fill="#d2a52a"/>
<rect x="489.30" y="454.90" width="3.4" height="3.4" fill="#d2a52a"/>
<rect x="489.30" y="456.80" width="3.4" height="3.4" fill="#d2a52a"/>
<rect x="489.30" y="458.60" width="3.4" height="3.4" fill="#d2a52a"/>
<rect x="489.30" y="464.10" width="3.4" height="3.4" fill="#d2a52a"/>
<rect x="489.30" y="466.70" width="3.4" height="3.4" fill="#d2a52a"/>
<rect x="489.30" y="469.60" width="3.4" height="3.4" fill="#d2a52a"/>
<rect x="501.00" y="418.50" width="3.4" height="3.4" fill="#d2a52a"/>
<rect x="501.00" y="435.60" width="3.4" height="3.4" fill="#d2a52a"/>
<rect x="501.00" y="443.30" width="3.4" height="3.4" fill="#d2a52a"/>
<rect x="501.00" y="445.70" width="3.4" height="3.4" fill="#d2a52a"/>
<rect x="501.00" y="450.10" width="3.4" height="3.4" fill="#d2a52a"/>
<rect x="501.00" y="458.00" width="3.4" height="3.4" fill="#d2a52a"/>
<rect x="501.00" y="465.90" width="3.4" height="3.4" fill="#d2a52a"/>
<line x1="480.40" y1="413.80" x2="480.40" y2="423.90" stroke="#1e1e1e" stroke-width="1.3" />
<line x1="480.40" y1="430.30" x2="480.40" y2="472.30" stroke="#1e1e1e" stroke-width="1.3" />
<line x1="478.60" y1="423.90" x2="482.20" y2="423.90" stroke="#1e1e1e" stroke-width="1.0" />
<line x1="478.60" y1="430.30" x2="482.20" y2="430.30" stroke="#1e1e1e" stroke-width="1.0" />
<line x1="477.40" y1="415.00" x2="480.40" y2="415.00" stroke="#1e1e1e" stroke-width="0.9" />
<text x="474.10" y="417.20" font-size="6.2" text-anchor="end" font-weight="normal" fill="#303030" stroke="#303030" stroke-width="0.12" >10000</text>
<line x1="477.40" y1="420.60" x2="480.40" y2="420.60" stroke="#1e1e1e" stroke-width="0.9" />
<text x="474.10" y="422.80" font-size="6.2" text-anchor="end" font-weight="normal" fill="#303030" stroke="#303030" stroke-width="0.12" >5000</text>
<line x1="477.40" y1="431.30" x2="480.40" y2="431.30" stroke="#1e1e1e" stroke-width="0.9" />
<text x="474.10" y="433.50" font-size="6.2" text-anchor="end" font-weight="normal" fill="#303030" stroke="#303030" stroke-width="0.12" >120</text>
<line x1="477.40" y1="441.40" x2="480.40" y2="441.40" stroke="#1e1e1e" stroke-width="0.9" />
<text x="474.10" y="443.60" font-size="6.2" text-anchor="end" font-weight="normal" fill="#303030" stroke="#303030" stroke-width="0.12" >90</text>
<line x1="477.40" y1="451.50" x2="480.40" y2="451.50" stroke="#1e1e1e" stroke-width="0.9" />
<text x="474.10" y="453.70" font-size="6.2" text-anchor="end" font-weight="normal" fill="#303030" stroke="#303030" stroke-width="0.12" >60</text>
<line x1="477.40" y1="461.60" x2="480.40" y2="461.60" stroke="#1e1e1e" stroke-width="0.9" />
<text x="474.10" y="463.80" font-size="6.2" text-anchor="end" font-weight="normal" fill="#303030" stroke="#303030" stroke-width="0.12" >30</text>
<line x1="477.40" y1="471.70" x2="480.40" y2="471.70" stroke="#1e1e1e" stroke-width="0.9" />
<text x="474.10" y="473.90" font-size="6.2" text-anchor="end" font-weight="normal" fill="#303030" stroke="#303030" stroke-width="0.12" >0</text>
<line x1="492.40" y1="408.80" x2="502.90" y2="408.80" stroke="#333" stroke-width="0.9" />
<circle cx="497.65" cy="405.50" r="0.95" fill="#333"/>
<text x="0" y="0" font-size="7.6" text-anchor="middle" fill="#333333" stroke="#333333" stroke-width="0.32" textLength="50.2" lengthAdjust="spacingAndGlyphs" transform="translate(441.70,443.00) rotate(-90)">CD8<tspan font-size="4.8" dy="-2.6">+</tspan><tspan dy="2.6">IFNγ<tspan font-size="4.8" dy="-2.6">+</tspan><tspan dy="2.6">CD107a<tspan font-size="4.8" dy="-2.6">+</tspan><tspan dy="2.6"></tspan></tspan></tspan></text>
<text x="0" y="0" font-size="7.6" text-anchor="middle" fill="#333333" stroke="#333333" stroke-width="0.32" textLength="27.8" lengthAdjust="spacingAndGlyphs" transform="translate(452.50,443.30) rotate(-90)">cells/100µL</text>
<text x="0" y="0" font-size="6.0" text-anchor="end" fill="#333" stroke="#333" stroke-width="0.15" transform="translate(494.6,480.6) rotate(-45)">before csCMVi</text>
<text x="0" y="0" font-size="6.0" text-anchor="end" fill="#333" stroke="#333" stroke-width="0.15" transform="translate(507.0,480.6) rotate(-45)">after csCMVi</text>
<rect x="0.50" y="0.50" width="519.00" height="515.00" fill="none" stroke="#555555" stroke-width="1" />
</svg></body></html>
